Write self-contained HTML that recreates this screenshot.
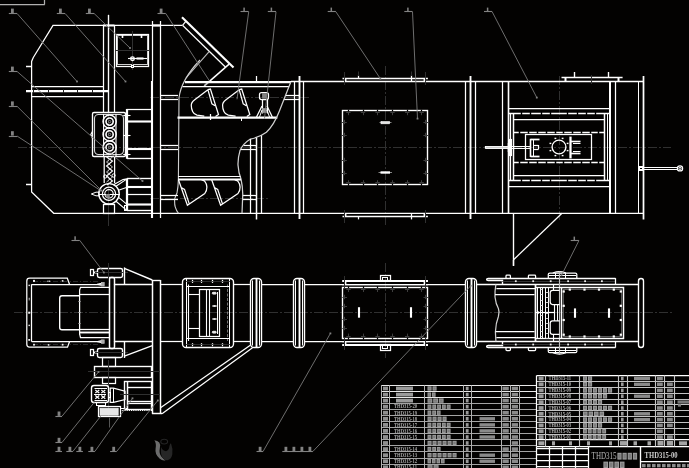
<!DOCTYPE html>
<html><head><meta charset="utf-8"><title>THD315</title>
<style>
html,body{margin:0;padding:0;background:#030201;overflow:hidden;font-family:"Liberation Sans",sans-serif;}
svg{display:block;}
</style></head><body>
<svg width="689" height="468" viewBox="0 0 689 468" fill="none" stroke-linecap="butt">
<defs><filter id="gs" x="-5%" y="-20%" width="110%" height="140%" color-interpolation-filters="sRGB"><feColorMatrix type="saturate" values="0"/></filter></defs>
<rect x="0" y="0" width="689" height="468" fill="#030201"/>
<line x1="18" y1="147.5" x2="671" y2="147.5" stroke="#303030" stroke-width="1.12" stroke-dasharray="9 2 2 2"/>
<line x1="14" y1="312.5" x2="672" y2="312.5" stroke="#303030" stroke-width="1.12" stroke-dasharray="9 2 2 2"/>
<line x1="108.5" y1="14" x2="108.5" y2="226" stroke="#303030" stroke-width="1.0" />
<line x1="385.5" y1="66" x2="385.5" y2="226" stroke="#303030" stroke-width="1.0" stroke-dasharray="9 2 2 2"/>
<line x1="385.5" y1="263" x2="385.5" y2="358" stroke="#303030" stroke-width="1.0" stroke-dasharray="9 2 2 2"/>
<line x1="559.5" y1="76" x2="559.5" y2="222" stroke="#303030" stroke-width="1.0" stroke-dasharray="9 2 2 2"/>
<line x1="150" y1="97.5" x2="310" y2="97.5" stroke="#303030" stroke-width="1.0" stroke-dasharray="9 2 2 2"/>
<line x1="150" y1="198.5" x2="268" y2="198.5" stroke="#303030" stroke-width="1.0" stroke-dasharray="9 2 2 2"/>
<line x1="0" y1="4.5" x2="44.8" y2="4.5" stroke="#b0b0b0" stroke-width="1.25" />
<line x1="44.5" y1="0" x2="44.5" y2="4.6" stroke="#b0b0b0" stroke-width="1.25" />
<polyline points="182,25.3 53,25.3 33.3,57.5 31.6,61.5 31.6,192 53.7,213.3 643.4,213.3" stroke="#ffffff" stroke-width="1.25" fill="none"/>
<line x1="26" y1="66.5" x2="32" y2="66.5" stroke="#ffffff" stroke-width="1.5" />
<line x1="26" y1="184.5" x2="32" y2="184.5" stroke="#ffffff" stroke-width="1.5" />
<line x1="32" y1="86.5" x2="103.5" y2="86.5" stroke="#ffffff" stroke-width="1.25" />
<line x1="26" y1="91.0" x2="108" y2="91.0" stroke="#ffffff" stroke-width="2.25" />
<line x1="32" y1="96.5" x2="103.5" y2="96.5" stroke="#ffffff" stroke-width="1.25" />
<line x1="33.5" y1="89.5" x2="33.5" y2="93" stroke="#222" stroke-width="1.0" />
<line x1="48.5" y1="89.5" x2="48.5" y2="93" stroke="#222" stroke-width="1.0" />
<line x1="63.5" y1="89.5" x2="63.5" y2="93" stroke="#222" stroke-width="1.0" />
<line x1="77.5" y1="89.5" x2="77.5" y2="93" stroke="#222" stroke-width="1.0" />
<line x1="92.5" y1="89.5" x2="92.5" y2="93" stroke="#222" stroke-width="1.0" />
<line x1="103.5" y1="25.3" x2="103.5" y2="112.5" stroke="#ffffff" stroke-width="1.25" />
<line x1="108.5" y1="15" x2="108.5" y2="112.5" stroke="#ffffff" stroke-width="1.38" />
<line x1="114.5" y1="25.3" x2="114.5" y2="112.5" stroke="#ffffff" stroke-width="1.25" />
<line x1="103" y1="25.5" x2="114.5" y2="25.5" stroke="#ffffff" stroke-width="2.0" />
<line x1="152.5" y1="21" x2="152.5" y2="81" stroke="#ffffff" stroke-width="1.25" />
<line x1="152.0" y1="81" x2="152.0" y2="218" stroke="#ffffff" stroke-width="2.12" />
<line x1="160.5" y1="21" x2="160.5" y2="218" stroke="#ffffff" stroke-width="1.25" />
<line x1="152" y1="25.5" x2="161" y2="25.5" stroke="#ffffff" stroke-width="2.25" />
<rect x="116.5" y="34.5" width="32.0" height="32.0" rx="0" stroke="#ffffff" stroke-width="1.25" fill="none"/>
<rect x="117.5" y="35.5" width="30.0" height="29.0" rx="0" stroke="#cfcfcf" stroke-width="1.0" fill="none"/>
<line x1="122.5" y1="34" x2="122.5" y2="38" stroke="#ffffff" stroke-width="1.62" />
<line x1="141.5" y1="34" x2="141.5" y2="38" stroke="#ffffff" stroke-width="1.62" />
<line x1="115" y1="50.5" x2="150" y2="50.5" stroke="#303030" stroke-width="1.0" />
<line x1="132.5" y1="31" x2="132.5" y2="70" stroke="#303030" stroke-width="1.0" />
<circle cx="132.5" cy="58.7" r="1.8" stroke="#ffffff" stroke-width="1.38" fill="none"/>
<line x1="128" y1="58.5" x2="147" y2="58.5" stroke="#ffffff" stroke-width="1.12" />
<line x1="136.5" y1="58.5" x2="143.5" y2="58.5" stroke="#ffffff" stroke-width="2.12" />
<rect x="131.5" y="65.5" width="2.0" height="2.0" rx="0" stroke="#ffffff" stroke-width="1.0" fill="none"/>
<line x1="182" y1="17.2" x2="233.5" y2="67.6" stroke="#ffffff" stroke-width="2.12" />
<line x1="182.5" y1="25.3" x2="225.6" y2="67.2" stroke="#ffffff" stroke-width="1.25" />
<line x1="182.5" y1="25.3" x2="186" y2="21.2" stroke="#ffffff" stroke-width="1.25" />
<line x1="229.1" y1="64.1" x2="208" y2="82.6" stroke="#ffffff" stroke-width="1.5" />
<line x1="208" y1="82.6" x2="204.2" y2="86" stroke="#c0c0c0" stroke-width="1.75" />
<line x1="209.3" y1="51.3" x2="186" y2="78" stroke="#bdbdbd" stroke-width="1.12" />
<path d="M200,60 Q181,80 179,98 L178.4,179 Q178.2,187 177,193 Q174.3,198.5 174.6,201 Q174.6,205 175.2,206.8 Q176.3,210.5 178.5,213.3" stroke="#d0d0d0" stroke-width="1.12" fill="none" />
<line x1="185" y1="82.0" x2="291" y2="82.0" stroke="#ffffff" stroke-width="2.25" />
<line x1="182.5" y1="86.5" x2="289" y2="86.5" stroke="#ffffff" stroke-width="1.25" />
<line x1="177.5" y1="117.5" x2="277.3" y2="117.5" stroke="#ffffff" stroke-width="2.25" />
<line x1="256.5" y1="76" x2="256.5" y2="82" stroke="#ffffff" stroke-width="1.25" />
<line x1="210.5" y1="114" x2="210.5" y2="120" stroke="#ffffff" stroke-width="1.25" />
<line x1="241.5" y1="117" x2="241.5" y2="121" stroke="#ffffff" stroke-width="1.0" />
<line x1="161" y1="95.5" x2="178" y2="95.5" stroke="#ffffff" stroke-width="1.25" />
<line x1="161" y1="99.5" x2="178" y2="99.5" stroke="#ffffff" stroke-width="1.25" />
<line x1="161" y1="145.5" x2="178" y2="145.5" stroke="#ffffff" stroke-width="1.25" />
<line x1="161" y1="149.5" x2="178" y2="149.5" stroke="#ffffff" stroke-width="1.25" />
<line x1="161" y1="195.5" x2="178" y2="195.5" stroke="#ffffff" stroke-width="1.25" />
<line x1="161" y1="199.5" x2="178" y2="199.5" stroke="#ffffff" stroke-width="1.25" />
<line x1="285.5" y1="95.5" x2="299" y2="95.5" stroke="#ffffff" stroke-width="1.25" />
<line x1="284" y1="99.5" x2="299" y2="99.5" stroke="#ffffff" stroke-width="1.25" />
<line x1="243.5" y1="145.5" x2="256" y2="145.5" stroke="#ffffff" stroke-width="1.25" />
<line x1="240.5" y1="149.5" x2="256" y2="149.5" stroke="#ffffff" stroke-width="1.25" />
<line x1="242.6" y1="195.5" x2="256" y2="195.5" stroke="#ffffff" stroke-width="1.25" />
<line x1="242.6" y1="199.5" x2="256" y2="199.5" stroke="#ffffff" stroke-width="1.25" />
<path d="M290.8,82 L279.3,111.2 Q274,125 266.4,132.2 Q260,137 250.1,139.2 Q243,143.5 240,150.6 Q237.8,158 238,165 Q238.5,173 241,179 Q243,188 242.7,196 L242,213.3" stroke="#d0d0d0" stroke-width="1.25" fill="none" />
<line x1="250.5" y1="139" x2="250.5" y2="213" stroke="#ffffff" stroke-width="1.25" />
<line x1="256.5" y1="137.5" x2="256.5" y2="219.5" stroke="#ffffff" stroke-width="1.5" />
<line x1="261.5" y1="135.5" x2="261.5" y2="213" stroke="#ffffff" stroke-width="1.25" />
<line x1="178" y1="176.5" x2="240.5" y2="176.5" stroke="#ffffff" stroke-width="1.12" />
<line x1="178" y1="179.5" x2="241" y2="179.5" stroke="#ffffff" stroke-width="1.88" />
<path d="M207.9,89.7 L210.4,89.1 L218.5,114.6 L215.5,116.6 M207.9,89.7 L211.9,103.8 L215,105.8 M207.9,89.7 L194.7,99.7 Q191,102.5 191.3,105.6 Q191.3,109 192.6,111.4 Q194,114.3 197,115.2 L204.3,116.2" stroke="#ffffff" stroke-width="1.25" fill="none" />
<path d="M239.20000000000002,89.7 L241.70000000000002,89.1 L249.8,114.6 L246.8,116.6 M239.20000000000002,89.7 L243.20000000000002,103.8 L246.3,105.8 M239.20000000000002,89.7 L226.0,99.7 Q222.3,102.5 222.60000000000002,105.6 Q222.60000000000002,109 223.9,111.4 Q225.3,114.3 228.3,115.2 L235.60000000000002,116.2" stroke="#ffffff" stroke-width="1.25" fill="none" />
<path d="M178.4,179.5 L187.4,205.2 L204.8,193.5 Q207,190.5 206.9,187.1 Q206.7,183.5 204.8,181.3 Q203.6,180.1 201.5,179.8 M181.6,187.7 L184.5,189.4 L189.2,203.6" stroke="#ffffff" stroke-width="1.25" fill="none" />
<path d="M211.60000000000002,179.5 L220.60000000000002,205.2 L238.0,193.5 Q240.2,190.5 240.10000000000002,187.1 Q239.89999999999998,183.5 238.0,181.3 Q236.8,180.1 234.7,179.8 M214.8,187.7 L217.7,189.4 L222.39999999999998,203.6" stroke="#ffffff" stroke-width="1.25" fill="none" />
<rect x="259.5" y="92.5" width="9.0" height="7.0" rx="2" stroke="#ffffff" stroke-width="1.25" fill="none"/>
<line x1="262.5" y1="99.5" x2="262.5" y2="113.5" stroke="#ffffff" stroke-width="1.25" />
<line x1="267.5" y1="99.5" x2="267.5" y2="113.5" stroke="#ffffff" stroke-width="1.25" />
<rect x="262.6" y="93.6" width="3.8" height="4.6" rx="0" stroke="#828282" stroke-width="1.0" fill="#828282"/>
<rect x="262.5" y="108.5" width="4.0" height="4.0" rx="0" stroke="#9a9a9a" stroke-width="0.75" fill="#9a9a9a"/>
<line x1="262" y1="106" x2="256.5" y2="117" stroke="#ffffff" stroke-width="1.25" />
<line x1="267" y1="106" x2="272.3" y2="117" stroke="#ffffff" stroke-width="1.25" />
<line x1="262" y1="110" x2="259.5" y2="117" stroke="#ffffff" stroke-width="1.0" />
<line x1="267" y1="110" x2="269.5" y2="117" stroke="#ffffff" stroke-width="1.0" />
<line x1="294.5" y1="82" x2="294.5" y2="213" stroke="#ffffff" stroke-width="1.25" />
<line x1="299.5" y1="76" x2="299.5" y2="219" stroke="#ffffff" stroke-width="1.88" />
<line x1="303.5" y1="82" x2="303.5" y2="213" stroke="#ffffff" stroke-width="1.25" />
<line x1="465.5" y1="82" x2="465.5" y2="213" stroke="#ffffff" stroke-width="1.25" />
<line x1="470.5" y1="76" x2="470.5" y2="219" stroke="#ffffff" stroke-width="1.88" />
<line x1="475.5" y1="82" x2="475.5" y2="213" stroke="#ffffff" stroke-width="1.25" />
<line x1="291" y1="81.5" x2="643.4" y2="81.5" stroke="#ffffff" stroke-width="1.38" />
<line x1="342.5" y1="78.5" x2="427.9" y2="78.5" stroke="#ffffff" stroke-width="1.38" />
<line x1="345.5" y1="78.4" x2="345.5" y2="81.6" stroke="#ffffff" stroke-width="1.88" />
<line x1="424.5" y1="78.4" x2="424.5" y2="81.6" stroke="#ffffff" stroke-width="1.88" />
<line x1="358.5" y1="75.4" x2="358.5" y2="78.4" stroke="#ffffff" stroke-width="1.25" />
<line x1="411.5" y1="75.4" x2="411.5" y2="81.6" stroke="#ffffff" stroke-width="1.25" />
<line x1="344.5" y1="72" x2="344.5" y2="85" stroke="#303030" stroke-width="1.0" />
<line x1="425.5" y1="72" x2="425.5" y2="85" stroke="#303030" stroke-width="1.0" />
<line x1="358.5" y1="71.5" x2="358.5" y2="76" stroke="#303030" stroke-width="1.0" />
<line x1="411.5" y1="71.5" x2="411.5" y2="76" stroke="#303030" stroke-width="1.0" />
<line x1="342.5" y1="216.5" x2="427.9" y2="216.5" stroke="#ffffff" stroke-width="1.38" />
<line x1="345.5" y1="213.3" x2="345.5" y2="216.4" stroke="#ffffff" stroke-width="1.88" />
<line x1="424.5" y1="213.3" x2="424.5" y2="216.4" stroke="#ffffff" stroke-width="1.88" />
<line x1="358.5" y1="216.4" x2="358.5" y2="219.4" stroke="#ffffff" stroke-width="1.25" />
<line x1="411.5" y1="213.3" x2="411.5" y2="219.4" stroke="#ffffff" stroke-width="1.25" />
<line x1="344.5" y1="210" x2="344.5" y2="223" stroke="#303030" stroke-width="1.0" />
<line x1="425.5" y1="210" x2="425.5" y2="223" stroke="#303030" stroke-width="1.0" />
<rect x="342.5" y="110.5" width="85.0" height="74.0" rx="0" stroke="#ffffff" stroke-width="1.38" fill="none"/>
<line x1="348.5" y1="110.2" x2="348.5" y2="115.2" stroke="#3e3e3e" stroke-width="1.0" />
<line x1="346.2" y1="112.5" x2="350.59999999999997" y2="112.5" stroke="#3e3e3e" stroke-width="1.0" />
<line x1="348.5" y1="180.2" x2="348.5" y2="185.2" stroke="#3e3e3e" stroke-width="1.0" />
<line x1="346.2" y1="182.5" x2="350.59999999999997" y2="182.5" stroke="#3e3e3e" stroke-width="1.0" />
<line x1="348.5" y1="109.6" x2="348.5" y2="111.6" stroke="#000" stroke-width="1.25" />
<line x1="348.5" y1="183.7" x2="348.5" y2="185.7" stroke="#000" stroke-width="1.25" />
<line x1="363.5" y1="110.2" x2="363.5" y2="115.2" stroke="#3e3e3e" stroke-width="1.0" />
<line x1="360.8" y1="112.5" x2="365.2" y2="112.5" stroke="#3e3e3e" stroke-width="1.0" />
<line x1="363.5" y1="180.2" x2="363.5" y2="185.2" stroke="#3e3e3e" stroke-width="1.0" />
<line x1="360.8" y1="182.5" x2="365.2" y2="182.5" stroke="#3e3e3e" stroke-width="1.0" />
<line x1="363.5" y1="109.6" x2="363.5" y2="111.6" stroke="#000" stroke-width="1.25" />
<line x1="363.5" y1="183.7" x2="363.5" y2="185.7" stroke="#000" stroke-width="1.25" />
<line x1="377.5" y1="110.2" x2="377.5" y2="115.2" stroke="#3e3e3e" stroke-width="1.0" />
<line x1="375.40000000000003" y1="112.5" x2="379.8" y2="112.5" stroke="#3e3e3e" stroke-width="1.0" />
<line x1="377.5" y1="180.2" x2="377.5" y2="185.2" stroke="#3e3e3e" stroke-width="1.0" />
<line x1="375.40000000000003" y1="182.5" x2="379.8" y2="182.5" stroke="#3e3e3e" stroke-width="1.0" />
<line x1="377.5" y1="109.6" x2="377.5" y2="111.6" stroke="#000" stroke-width="1.25" />
<line x1="377.5" y1="183.7" x2="377.5" y2="185.7" stroke="#000" stroke-width="1.25" />
<line x1="392.5" y1="110.2" x2="392.5" y2="115.2" stroke="#3e3e3e" stroke-width="1.0" />
<line x1="390.3" y1="112.5" x2="394.7" y2="112.5" stroke="#3e3e3e" stroke-width="1.0" />
<line x1="392.5" y1="180.2" x2="392.5" y2="185.2" stroke="#3e3e3e" stroke-width="1.0" />
<line x1="390.3" y1="182.5" x2="394.7" y2="182.5" stroke="#3e3e3e" stroke-width="1.0" />
<line x1="392.5" y1="109.6" x2="392.5" y2="111.6" stroke="#000" stroke-width="1.25" />
<line x1="392.5" y1="183.7" x2="392.5" y2="185.7" stroke="#000" stroke-width="1.25" />
<line x1="407.5" y1="110.2" x2="407.5" y2="115.2" stroke="#3e3e3e" stroke-width="1.0" />
<line x1="405.1" y1="112.5" x2="409.5" y2="112.5" stroke="#3e3e3e" stroke-width="1.0" />
<line x1="407.5" y1="180.2" x2="407.5" y2="185.2" stroke="#3e3e3e" stroke-width="1.0" />
<line x1="405.1" y1="182.5" x2="409.5" y2="182.5" stroke="#3e3e3e" stroke-width="1.0" />
<line x1="407.5" y1="109.6" x2="407.5" y2="111.6" stroke="#000" stroke-width="1.25" />
<line x1="407.5" y1="183.7" x2="407.5" y2="185.7" stroke="#000" stroke-width="1.25" />
<line x1="421.5" y1="110.2" x2="421.5" y2="115.2" stroke="#3e3e3e" stroke-width="1.0" />
<line x1="419.40000000000003" y1="112.5" x2="423.8" y2="112.5" stroke="#3e3e3e" stroke-width="1.0" />
<line x1="421.5" y1="180.2" x2="421.5" y2="185.2" stroke="#3e3e3e" stroke-width="1.0" />
<line x1="419.40000000000003" y1="182.5" x2="423.8" y2="182.5" stroke="#3e3e3e" stroke-width="1.0" />
<line x1="421.5" y1="109.6" x2="421.5" y2="111.6" stroke="#000" stroke-width="1.25" />
<line x1="421.5" y1="183.7" x2="421.5" y2="185.7" stroke="#000" stroke-width="1.25" />
<line x1="341.8" y1="122.5" x2="346.8" y2="122.5" stroke="#3e3e3e" stroke-width="1.0" />
<line x1="344.5" y1="119.8" x2="344.5" y2="124.2" stroke="#3e3e3e" stroke-width="1.0" />
<line x1="423.4" y1="122.5" x2="428.4" y2="122.5" stroke="#3e3e3e" stroke-width="1.0" />
<line x1="425.5" y1="119.8" x2="425.5" y2="124.2" stroke="#3e3e3e" stroke-width="1.0" />
<line x1="341.8" y1="135.5" x2="346.8" y2="135.5" stroke="#3e3e3e" stroke-width="1.0" />
<line x1="344.5" y1="132.8" x2="344.5" y2="137.2" stroke="#3e3e3e" stroke-width="1.0" />
<line x1="423.4" y1="135.5" x2="428.4" y2="135.5" stroke="#3e3e3e" stroke-width="1.0" />
<line x1="425.5" y1="132.8" x2="425.5" y2="137.2" stroke="#3e3e3e" stroke-width="1.0" />
<line x1="341.8" y1="160.5" x2="346.8" y2="160.5" stroke="#3e3e3e" stroke-width="1.0" />
<line x1="344.5" y1="157.8" x2="344.5" y2="162.2" stroke="#3e3e3e" stroke-width="1.0" />
<line x1="423.4" y1="160.5" x2="428.4" y2="160.5" stroke="#3e3e3e" stroke-width="1.0" />
<line x1="425.5" y1="157.8" x2="425.5" y2="162.2" stroke="#3e3e3e" stroke-width="1.0" />
<line x1="341.8" y1="173.5" x2="346.8" y2="173.5" stroke="#3e3e3e" stroke-width="1.0" />
<line x1="344.5" y1="170.8" x2="344.5" y2="175.2" stroke="#3e3e3e" stroke-width="1.0" />
<line x1="423.4" y1="173.5" x2="428.4" y2="173.5" stroke="#3e3e3e" stroke-width="1.0" />
<line x1="425.5" y1="170.8" x2="425.5" y2="175.2" stroke="#3e3e3e" stroke-width="1.0" />
<line x1="379.5" y1="122.5" x2="391.5" y2="122.5" stroke="#999" stroke-width="0.88" />
<rect x="381" y="121.6" width="8.5" height="2.2" rx="0" stroke="#fff" stroke-width="0.62" fill="#e4e4e4"/>
<line x1="378.5" y1="172.5" x2="392" y2="172.5" stroke="#999" stroke-width="0.88" />
<line x1="380.5" y1="172.5" x2="390" y2="172.5" stroke="#ffffff" stroke-width="2.38" />
<line x1="502.5" y1="82" x2="502.5" y2="213" stroke="#ffffff" stroke-width="1.25" />
<line x1="508.5" y1="82" x2="508.5" y2="213" stroke="#ffffff" stroke-width="1.62" />
<line x1="610.0" y1="82" x2="610.0" y2="213" stroke="#ffffff" stroke-width="2.0" />
<line x1="615.5" y1="82" x2="615.5" y2="213" stroke="#ffffff" stroke-width="1.25" />
<line x1="638.5" y1="82" x2="638.5" y2="213" stroke="#ffffff" stroke-width="1.0" />
<line x1="643.5" y1="76" x2="643.5" y2="219.5" stroke="#ffffff" stroke-width="1.75" />
<line x1="561.5" y1="77.5" x2="622.6" y2="77.5" stroke="#ffffff" stroke-width="1.38" />
<line x1="565.5" y1="77.3" x2="565.5" y2="81.2" stroke="#ffffff" stroke-width="2.0" />
<line x1="618.5" y1="77.3" x2="618.5" y2="81.2" stroke="#ffffff" stroke-width="2.0" />
<line x1="574.5" y1="72" x2="574.5" y2="77.3" stroke="#ffffff" stroke-width="1.38" />
<line x1="608.5" y1="72" x2="608.5" y2="77.3" stroke="#ffffff" stroke-width="1.38" />
<line x1="591.5" y1="75" x2="591.5" y2="84" stroke="#303030" stroke-width="1.0" />
<line x1="508.3" y1="108.5" x2="610.3" y2="108.5" stroke="#ffffff" stroke-width="1.25" />
<line x1="508.3" y1="113.5" x2="610.3" y2="113.5" stroke="#ffffff" stroke-width="1.5" />
<line x1="513.5" y1="119.5" x2="604.5" y2="119.5" stroke="#ffffff" stroke-width="1.25" />
<line x1="510.5" y1="113.6" x2="510.5" y2="181" stroke="#ffffff" stroke-width="1.25" />
<line x1="513.5" y1="113.6" x2="513.5" y2="181" stroke="#ffffff" stroke-width="1.5" />
<line x1="604.5" y1="113.6" x2="604.5" y2="181" stroke="#ffffff" stroke-width="1.5" />
<line x1="607.5" y1="113.6" x2="607.5" y2="181" stroke="#ffffff" stroke-width="1.0" />
<line x1="513.6" y1="132.5" x2="604.7" y2="132.5" stroke="#ffffff" stroke-width="1.62" />
<line x1="513.6" y1="162.5" x2="604.7" y2="162.5" stroke="#ffffff" stroke-width="1.62" />
<line x1="513.5" y1="175.5" x2="604.5" y2="175.5" stroke="#ffffff" stroke-width="1.25" />
<line x1="508.3" y1="180.5" x2="610.3" y2="180.5" stroke="#ffffff" stroke-width="1.5" />
<line x1="508.3" y1="186.5" x2="610.3" y2="186.5" stroke="#ffffff" stroke-width="1.25" />
<line x1="521.5" y1="111.8" x2="521.5" y2="115.39999999999999" stroke="#000" stroke-width="1.38" />
<line x1="530.5" y1="111.8" x2="530.5" y2="115.39999999999999" stroke="#000" stroke-width="1.38" />
<line x1="541.5" y1="111.8" x2="541.5" y2="115.39999999999999" stroke="#000" stroke-width="1.38" />
<line x1="550.5" y1="111.8" x2="550.5" y2="115.39999999999999" stroke="#000" stroke-width="1.38" />
<line x1="567.5" y1="111.8" x2="567.5" y2="115.39999999999999" stroke="#000" stroke-width="1.38" />
<line x1="577.5" y1="111.8" x2="577.5" y2="115.39999999999999" stroke="#000" stroke-width="1.38" />
<line x1="586.5" y1="111.8" x2="586.5" y2="115.39999999999999" stroke="#000" stroke-width="1.38" />
<line x1="595.5" y1="111.8" x2="595.5" y2="115.39999999999999" stroke="#000" stroke-width="1.38" />
<line x1="521.5" y1="179.0" x2="521.5" y2="182.60000000000002" stroke="#000" stroke-width="1.38" />
<line x1="530.5" y1="179.0" x2="530.5" y2="182.60000000000002" stroke="#000" stroke-width="1.38" />
<line x1="541.5" y1="179.0" x2="541.5" y2="182.60000000000002" stroke="#000" stroke-width="1.38" />
<line x1="550.5" y1="179.0" x2="550.5" y2="182.60000000000002" stroke="#000" stroke-width="1.38" />
<line x1="567.5" y1="179.0" x2="567.5" y2="182.60000000000002" stroke="#000" stroke-width="1.38" />
<line x1="577.5" y1="179.0" x2="577.5" y2="182.60000000000002" stroke="#000" stroke-width="1.38" />
<line x1="586.5" y1="179.0" x2="586.5" y2="182.60000000000002" stroke="#000" stroke-width="1.38" />
<line x1="595.5" y1="179.0" x2="595.5" y2="182.60000000000002" stroke="#000" stroke-width="1.38" />
<line x1="519.5" y1="130.79999999999998" x2="519.5" y2="134.4" stroke="#000" stroke-width="1.5" />
<line x1="528.5" y1="130.79999999999998" x2="528.5" y2="134.4" stroke="#000" stroke-width="1.5" />
<line x1="537.5" y1="130.79999999999998" x2="537.5" y2="134.4" stroke="#000" stroke-width="1.5" />
<line x1="546.5" y1="130.79999999999998" x2="546.5" y2="134.4" stroke="#000" stroke-width="1.5" />
<line x1="555.5" y1="130.79999999999998" x2="555.5" y2="134.4" stroke="#000" stroke-width="1.5" />
<line x1="563.5" y1="130.79999999999998" x2="563.5" y2="134.4" stroke="#000" stroke-width="1.5" />
<line x1="572.5" y1="130.79999999999998" x2="572.5" y2="134.4" stroke="#000" stroke-width="1.5" />
<line x1="581.5" y1="130.79999999999998" x2="581.5" y2="134.4" stroke="#000" stroke-width="1.5" />
<line x1="590.5" y1="130.79999999999998" x2="590.5" y2="134.4" stroke="#000" stroke-width="1.5" />
<line x1="598.5" y1="130.79999999999998" x2="598.5" y2="134.4" stroke="#000" stroke-width="1.5" />
<line x1="519.5" y1="160.89999999999998" x2="519.5" y2="164.5" stroke="#000" stroke-width="1.5" />
<line x1="528.5" y1="160.89999999999998" x2="528.5" y2="164.5" stroke="#000" stroke-width="1.5" />
<line x1="537.5" y1="160.89999999999998" x2="537.5" y2="164.5" stroke="#000" stroke-width="1.5" />
<line x1="546.5" y1="160.89999999999998" x2="546.5" y2="164.5" stroke="#000" stroke-width="1.5" />
<line x1="555.5" y1="160.89999999999998" x2="555.5" y2="164.5" stroke="#000" stroke-width="1.5" />
<line x1="563.5" y1="160.89999999999998" x2="563.5" y2="164.5" stroke="#000" stroke-width="1.5" />
<line x1="572.5" y1="160.89999999999998" x2="572.5" y2="164.5" stroke="#000" stroke-width="1.5" />
<line x1="581.5" y1="160.89999999999998" x2="581.5" y2="164.5" stroke="#000" stroke-width="1.5" />
<line x1="590.5" y1="160.89999999999998" x2="590.5" y2="164.5" stroke="#000" stroke-width="1.5" />
<line x1="598.5" y1="160.89999999999998" x2="598.5" y2="164.5" stroke="#000" stroke-width="1.5" />
<rect x="525.5" y="134.5" width="66.0" height="25.0" rx="0" stroke="#ffffff" stroke-width="1.25" fill="none"/>
<circle cx="559" cy="147" r="6.9" stroke="#ffffff" stroke-width="1.38" fill="none"/>
<rect x="566.7" y="149.9" width="1.8" height="1.4" fill="#ffffff"/>
<rect x="561.7" y="154.9" width="1.8" height="1.4" fill="#ffffff"/>
<rect x="554.5" y="154.9" width="1.8" height="1.4" fill="#ffffff"/>
<rect x="549.5" y="149.9" width="1.8" height="1.4" fill="#ffffff"/>
<rect x="549.5" y="142.7" width="1.8" height="1.4" fill="#ffffff"/>
<rect x="554.5" y="137.7" width="1.8" height="1.4" fill="#ffffff"/>
<rect x="561.7" y="137.7" width="1.8" height="1.4" fill="#ffffff"/>
<rect x="566.7" y="142.7" width="1.8" height="1.4" fill="#ffffff"/>
<line x1="485.5" y1="146.5" x2="531" y2="146.5" stroke="#ffffff" stroke-width="1.12" />
<line x1="485.5" y1="148.5" x2="531" y2="148.5" stroke="#ffffff" stroke-width="1.12" />
<line x1="485.5" y1="146" x2="485.5" y2="148.7" stroke="#ffffff" stroke-width="1.25" />
<line x1="486" y1="147.5" x2="510" y2="147.5" stroke="#cfcfcf" stroke-width="1.5" />
<line x1="508.5" y1="143" x2="508.5" y2="152" stroke="#ffffff" stroke-width="1.5" />
<rect x="509.5" y="139.5" width="2.0" height="16.0" rx="0" stroke="#ffffff" stroke-width="1.12" fill="none"/>
<line x1="530.5" y1="138.8" x2="530.5" y2="157.1" stroke="#ffffff" stroke-width="1.62" />
<line x1="530.7" y1="139.5" x2="539.5" y2="139.5" stroke="#ffffff" stroke-width="1.75" />
<line x1="530.7" y1="156.5" x2="539.5" y2="156.5" stroke="#ffffff" stroke-width="1.75" />
<line x1="533.5" y1="139" x2="533.5" y2="157" stroke="#ffffff" stroke-width="1.0" />
<line x1="533.8" y1="145.5" x2="538.5" y2="145.5" stroke="#ffffff" stroke-width="1.25" />
<line x1="533.8" y1="149.5" x2="538.5" y2="149.5" stroke="#ffffff" stroke-width="1.25" />
<line x1="538.5" y1="145" x2="538.5" y2="149.4" stroke="#ffffff" stroke-width="1.25" />
<line x1="570.5" y1="136.6" x2="570.5" y2="158.4" stroke="#ffffff" stroke-width="2.25" />
<line x1="570.5" y1="141.5" x2="580.5" y2="141.5" stroke="#ffffff" stroke-width="1.62" />
<line x1="570.5" y1="153.5" x2="580.5" y2="153.5" stroke="#ffffff" stroke-width="1.62" />
<line x1="573" y1="143.5" x2="580.5" y2="143.5" stroke="#ffffff" stroke-width="1.0" />
<line x1="573" y1="151.5" x2="580.5" y2="151.5" stroke="#ffffff" stroke-width="1.0" />
<line x1="639.5" y1="167.5" x2="677" y2="167.5" stroke="#ffffff" stroke-width="1.12" />
<line x1="639.5" y1="169.5" x2="677" y2="169.5" stroke="#ffffff" stroke-width="1.12" />
<circle cx="680" cy="168.4" r="2.6" stroke="#ffffff" stroke-width="1.25" fill="none"/>
<circle cx="680" cy="168.4" r="1.1" stroke="#ffffff" stroke-width="1.0" fill="none"/>
<rect x="639.5" y="166.5" width="3.0" height="4.0" rx="0" stroke="#ffffff" stroke-width="1.0" fill="none"/>
<line x1="513.5" y1="213.3" x2="513.5" y2="265.8" stroke="#ffffff" stroke-width="1.38" />
<line x1="562" y1="213.3" x2="513.6" y2="259.7" stroke="#ffffff" stroke-width="1.25" />
<rect x="92.5" y="112.5" width="33.0" height="44.0" rx="1.5" stroke="#ffffff" stroke-width="1.38" fill="none"/>
<rect x="94.5" y="114.5" width="29.0" height="40.0" rx="4" stroke="#d8d8d8" stroke-width="1.12" fill="none"/>
<circle cx="109.6" cy="121.6" r="6.6" stroke="#ffffff" stroke-width="1.38" fill="none"/>
<circle cx="109.6" cy="121.6" r="3.6" stroke="#ffffff" stroke-width="1.62" fill="none"/>
<circle cx="109.6" cy="121.6" r="1.2" stroke="#828282" stroke-width="1.0" fill="none"/>
<circle cx="109.6" cy="134.4" r="6.6" stroke="#ffffff" stroke-width="1.38" fill="none"/>
<circle cx="109.6" cy="134.4" r="3.6" stroke="#ffffff" stroke-width="1.62" fill="none"/>
<circle cx="109.6" cy="134.4" r="1.2" stroke="#828282" stroke-width="1.0" fill="none"/>
<circle cx="109.6" cy="147.4" r="6.6" stroke="#ffffff" stroke-width="1.38" fill="none"/>
<circle cx="109.6" cy="147.4" r="3.6" stroke="#ffffff" stroke-width="1.62" fill="none"/>
<circle cx="109.6" cy="147.4" r="1.2" stroke="#828282" stroke-width="1.0" fill="none"/>
<path d="M103.6,114 L103.6,156 M116,114 L116,156" stroke="#ffffff" stroke-width="1.12" fill="none" />
<path d="M92.7,131 L90.8,134.6 L92.7,138.5" stroke="#ffffff" stroke-width="1.12" fill="none" />
<line x1="127.0" y1="109" x2="127.0" y2="158.8" stroke="#ffffff" stroke-width="2.25" />
<line x1="126.5" y1="109.5" x2="152" y2="109.5" stroke="#ffffff" stroke-width="1.25" />
<line x1="127" y1="121.5" x2="152" y2="121.5" stroke="#ffffff" stroke-width="2.12" />
<line x1="127" y1="149.0" x2="152" y2="149.0" stroke="#ffffff" stroke-width="2.12" />
<line x1="127" y1="158.5" x2="152" y2="158.5" stroke="#ffffff" stroke-width="1.38" />
<line x1="123.2" y1="115.5" x2="130.5" y2="115.5" stroke="#ffffff" stroke-width="1.12" />
<line x1="123.2" y1="135.5" x2="130.5" y2="135.5" stroke="#ffffff" stroke-width="1.12" />
<line x1="123.2" y1="154.5" x2="130.5" y2="154.5" stroke="#ffffff" stroke-width="1.12" />
<path d="M104.2,156 L104.2,183 M114.6,156 L114.6,183" stroke="#ffffff" stroke-width="1.25" fill="none" />
<path d="M106.5,157 L112.5,161 L106.5,166 L112.5,171 L106.5,176 L112.5,181 L107,185" stroke="#ffffff" stroke-width="1.12" fill="none" />
<path d="M112.5,157 L106.5,162 L112.5,167 L106.5,172 L112.5,177 L106.5,182" stroke="#d0d0d0" stroke-width="1.0" fill="none" />
<circle cx="105.2" cy="176.5" r="1.6" stroke="#ffffff" stroke-width="1.0" fill="none"/>
<circle cx="113.6" cy="175.5" r="1.6" stroke="#ffffff" stroke-width="1.0" fill="none"/>
<circle cx="109" cy="193.8" r="10.2" stroke="#ffffff" stroke-width="1.38" fill="none"/>
<circle cx="109" cy="193.8" r="6.6" stroke="#ffffff" stroke-width="1.25" fill="none"/>
<circle cx="109" cy="193.8" r="4.2" stroke="#ffffff" stroke-width="1.12" fill="none"/>
<path d="M91.3,194 L96,192.2 L99,192.2 L99,195.8 L96,195.8 Z" stroke="#ffffff" stroke-width="1.0" fill="none" />
<line x1="99" y1="194.5" x2="120" y2="194.5" stroke="#ffffff" stroke-width="1.0" />
<rect x="106.4" y="194.6" width="3.0" height="2.6" rx="0" stroke="#828282" stroke-width="0.75" fill="#828282"/>
<rect x="103.5" y="204.5" width="11.0" height="9.0" rx="0" stroke="#ffffff" stroke-width="1.25" fill="none"/>
<path d="M116,186.3 L127,178.9 M118.6,190.2 L127,187.2 M118.6,197.4 L127,204.4 M116,201.3 L127,210.6 M114,184.5 L123,179.5 L127,178.9" stroke="#ffffff" stroke-width="1.12" fill="none" />
<line x1="127.0" y1="178.8" x2="127.0" y2="211" stroke="#ffffff" stroke-width="2.25" />
<line x1="127" y1="178.5" x2="152" y2="178.5" stroke="#ffffff" stroke-width="1.38" />
<line x1="127" y1="187.0" x2="152" y2="187.0" stroke="#ffffff" stroke-width="2.12" />
<line x1="127" y1="194.5" x2="152" y2="194.5" stroke="#ffffff" stroke-width="1.25" />
<line x1="127" y1="204.5" x2="152" y2="204.5" stroke="#ffffff" stroke-width="2.12" />
<line x1="127" y1="210.5" x2="152" y2="210.5" stroke="#ffffff" stroke-width="1.38" />
<rect x="124.5" y="205.5" width="3.0" height="5.0" rx="0" stroke="#ffffff" stroke-width="1.0" fill="none"/>
<path d="M69.5,284.2 L67.3,278.2 L29.6,278.2 Q26.8,278.2 26.8,281 L26.8,344.3 Q26.8,347.1 29.6,347.1 L67.5,347.1 L69.5,341.7" stroke="#ffffff" stroke-width="1.25" fill="none" />
<line x1="31.5" y1="284.2" x2="31.5" y2="341.7" stroke="#ffffff" stroke-width="1.25" />
<line x1="31.7" y1="284.5" x2="104" y2="284.5" stroke="#ffffff" stroke-width="1.25" />
<line x1="31.7" y1="341.5" x2="104" y2="341.5" stroke="#ffffff" stroke-width="1.25" />
<line x1="33" y1="281.5" x2="100" y2="281.5" stroke="#303030" stroke-width="0.88" stroke-dasharray="5 2 1 2"/>
<line x1="33" y1="344.5" x2="100" y2="344.5" stroke="#303030" stroke-width="0.88" stroke-dasharray="5 2 1 2"/>
<rect x="33.0" y="279.9" width="2.0" height="2.0" fill="#f2f2f2"/>
<rect x="47.4" y="280.59999999999997" width="1.2" height="1.2" fill="#f2f2f2"/>
<rect x="49.0" y="280.59999999999997" width="1.2" height="1.2" fill="#f2f2f2"/>
<rect x="61.800000000000004" y="280.09999999999997" width="1.6" height="1.6" fill="#f2f2f2"/>
<rect x="28.5" y="284.7" width="1.4" height="1.4" fill="#f2f2f2"/>
<rect x="28.7" y="297.8" width="1.0" height="1.0" fill="#f2f2f2"/>
<rect x="28.7" y="299.3" width="1.0" height="1.0" fill="#f2f2f2"/>
<rect x="28.2" y="311.7" width="2.0" height="2.0" fill="#f2f2f2"/>
<rect x="28.5" y="324.7" width="1.4" height="1.4" fill="#f2f2f2"/>
<rect x="28.3" y="339.0" width="1.8" height="1.8" fill="#f2f2f2"/>
<rect x="33.1" y="343.8" width="1.8" height="1.8" fill="#f2f2f2"/>
<rect x="47.800000000000004" y="344.09999999999997" width="1.6" height="1.6" fill="#f2f2f2"/>
<rect x="61.7" y="343.8" width="1.8" height="1.8" fill="#f2f2f2"/>
<path d="M80,295.7 L62,295.7 Q59.7,295.7 59.7,298 L59.7,327.4 Q59.7,329.7 62,329.7 L80,329.7" stroke="#ffffff" stroke-width="1.38" fill="none" />
<path d="M109.6,287.3 L80.5,287.3 L79.6,290 L79.6,334 L80.5,337.6 L109.6,337.6" stroke="#ffffff" stroke-width="1.25" fill="none" />
<line x1="80" y1="294.5" x2="109.6" y2="294.5" stroke="#ffffff" stroke-width="1.25" />
<line x1="80" y1="329.5" x2="109.6" y2="329.5" stroke="#ffffff" stroke-width="1.25" />
<line x1="80" y1="332.5" x2="109.6" y2="332.5" stroke="#ffffff" stroke-width="1.88" />
<line x1="78.4" y1="301.5" x2="80.6" y2="301.5" stroke="#bbb" stroke-width="0.88" />
<line x1="78.4" y1="312.5" x2="80.6" y2="312.5" stroke="#bbb" stroke-width="0.88" />
<line x1="78.4" y1="323.5" x2="80.6" y2="323.5" stroke="#bbb" stroke-width="0.88" />
<rect x="109.5" y="277.5" width="5.0" height="71.0" rx="1.5" stroke="#ffffff" stroke-width="1.5" fill="none"/>
<path d="M97,284.3 L102.5,283.1 L102.5,285.5 Z" stroke="#ffffff" stroke-width="1.0" fill="#ccc" />
<rect x="101.5" y="282.6" width="2.7" height="3.4" rx="0" stroke="#bbb" stroke-width="0.75" fill="#aaa"/>
<path d="M97,341.6 L102.5,340.40000000000003 L102.5,342.8 Z" stroke="#ffffff" stroke-width="1.0" fill="#ccc" />
<rect x="101.5" y="339.90000000000003" width="2.7" height="3.4" rx="0" stroke="#bbb" stroke-width="0.75" fill="#aaa"/>
<rect x="97.5" y="268.5" width="25.0" height="9.0" rx="1.8" stroke="#ffffff" stroke-width="1.38" fill="none"/>
<rect x="90.5" y="269.5" width="3.0" height="6.0" rx="0" stroke="#ffffff" stroke-width="1.25" fill="none"/>
<line x1="93.8" y1="272.5" x2="97" y2="272.5" stroke="#ffffff" stroke-width="1.88" />
<line x1="95" y1="272.5" x2="128" y2="272.5" stroke="#303030" stroke-width="1.0" />
<rect x="97.5" y="348.5" width="25.0" height="9.0" rx="1.8" stroke="#ffffff" stroke-width="1.38" fill="none"/>
<rect x="90.5" y="349.5" width="3.0" height="6.0" rx="0" stroke="#ffffff" stroke-width="1.25" fill="none"/>
<line x1="93.8" y1="352.5" x2="97" y2="352.5" stroke="#ffffff" stroke-width="1.88" />
<line x1="95" y1="352.5" x2="128" y2="352.5" stroke="#303030" stroke-width="1.0" />
<line x1="108.5" y1="263" x2="108.5" y2="283" stroke="#303030" stroke-width="1.0" />
<line x1="124.5" y1="267.4" x2="124.5" y2="284" stroke="#ffffff" stroke-width="1.38" />
<line x1="124.4" y1="268.4" x2="152.3" y2="280" stroke="#ffffff" stroke-width="1.38" />
<line x1="124.5" y1="341.5" x2="124.5" y2="358" stroke="#ffffff" stroke-width="1.38" />
<line x1="124.4" y1="356.2" x2="152.3" y2="345.6" stroke="#ffffff" stroke-width="1.38" />
<line x1="113.9" y1="284.5" x2="152.3" y2="284.5" stroke="#ffffff" stroke-width="1.62" />
<line x1="113.9" y1="341.5" x2="152.3" y2="341.5" stroke="#ffffff" stroke-width="1.62" />
<line x1="152.5" y1="280" x2="152.5" y2="413.8" stroke="#ffffff" stroke-width="1.5" />
<line x1="160.5" y1="280" x2="160.5" y2="413.8" stroke="#ffffff" stroke-width="1.5" />
<line x1="152.2" y1="280.5" x2="160.5" y2="280.5" stroke="#ffffff" stroke-width="1.38" />
<line x1="152" y1="413.5" x2="162" y2="413.5" stroke="#ffffff" stroke-width="1.5" />
<line x1="160.5" y1="284.5" x2="182.4" y2="284.5" stroke="#ffffff" stroke-width="1.25" />
<line x1="233.6" y1="284.5" x2="250.8" y2="284.5" stroke="#ffffff" stroke-width="1.25" />
<line x1="261.1" y1="284.5" x2="293.7" y2="284.5" stroke="#ffffff" stroke-width="1.25" />
<line x1="304.5" y1="284.5" x2="465.5" y2="284.5" stroke="#ffffff" stroke-width="1.25" />
<line x1="160.5" y1="341.5" x2="182.4" y2="341.5" stroke="#ffffff" stroke-width="1.25" />
<line x1="233.6" y1="341.5" x2="250.8" y2="341.5" stroke="#ffffff" stroke-width="1.25" />
<line x1="261.1" y1="341.5" x2="293.7" y2="341.5" stroke="#ffffff" stroke-width="1.25" />
<line x1="304.5" y1="341.5" x2="465.5" y2="341.5" stroke="#ffffff" stroke-width="1.25" />
<rect x="102.5" y="357.5" width="13.0" height="9.0" rx="0" stroke="#ffffff" stroke-width="1.25" fill="none"/>
<rect x="94.5" y="366.5" width="57.0" height="11.0" rx="0" stroke="#ffffff" stroke-width="1.38" fill="none"/>
<rect x="102.5" y="377.5" width="13.0" height="6.0" rx="0" stroke="#ffffff" stroke-width="1.25" fill="none"/>
<line x1="88" y1="371.5" x2="160" y2="371.5" stroke="#303030" stroke-width="1.0" />
<line x1="108.5" y1="360" x2="108.5" y2="417" stroke="#303030" stroke-width="1.0" />
<rect x="91.5" y="385.5" width="17.0" height="17.0" rx="2.5" stroke="#ffffff" stroke-width="1.38" fill="none"/>
<line x1="94.5" y1="388.5" x2="107" y2="388.5" stroke="#ffffff" stroke-width="1.0" />
<line x1="94.5" y1="400.5" x2="107" y2="400.5" stroke="#ffffff" stroke-width="1.0" />
<path d="M95.3,390 L99.3,393 M99.3,390 L95.3,393 M95.3,395.5 L99.3,398.7 M99.3,395.5 L95.3,398.7" stroke="#ffffff" stroke-width="1.12" fill="none" />
<path d="M101.3,390 L105.3,393 M105.3,390 L101.3,393 M101.3,395.5 L105.3,398.7 M105.3,395.5 L101.3,398.7" stroke="#ffffff" stroke-width="1.12" fill="none" />
<line x1="94" y1="394.5" x2="106" y2="394.5" stroke="#ffffff" stroke-width="1.0" />
<rect x="96.5" y="402.5" width="9.0" height="3.0" rx="0" stroke="#ffffff" stroke-width="1.0" fill="none"/>
<path d="M110.2,388.2 L113.5,388.2 L125,391.2 L125,399.6 L113.5,402.3 L110.2,402.3 Z" stroke="#ffffff" stroke-width="1.25" fill="none" />
<line x1="113.5" y1="388.2" x2="113.5" y2="402.3" stroke="#ffffff" stroke-width="1.0" />
<rect x="108.5" y="392.5" width="2.0" height="5.0" rx="0" stroke="#ffffff" stroke-width="1.0" fill="none"/>
<rect x="124.5" y="381.5" width="27.0" height="28.0" rx="0" stroke="#ffffff" stroke-width="1.38" fill="none"/>
<line x1="127" y1="387.5" x2="151.4" y2="387.5" stroke="#ffffff" stroke-width="1.38" />
<line x1="127" y1="401.5" x2="151.4" y2="401.5" stroke="#ffffff" stroke-width="1.38" />
<line x1="127" y1="403.5" x2="151.4" y2="403.5" stroke="#ffffff" stroke-width="1.25" />
<line x1="127.5" y1="381.6" x2="127.5" y2="409" stroke="#ffffff" stroke-width="1.5" />
<line x1="120" y1="394.5" x2="160" y2="394.5" stroke="#303030" stroke-width="1.0" />
<rect x="98.5" y="406.5" width="22.0" height="10.0" rx="0" stroke="#ffffff" stroke-width="1.25" fill="none"/>
<rect x="100" y="408.2" width="18.2" height="7.0" rx="0" stroke="#eee" stroke-width="0.75" fill="#e6e6e6"/>
<line x1="120" y1="410.5" x2="152" y2="410.5" stroke="#ffffff" stroke-width="1.12" stroke-dasharray="1.2 1"/>
<line x1="120" y1="408.5" x2="128" y2="408.5" stroke="#ffffff" stroke-width="1.0" />
<line x1="109.5" y1="417.7" x2="109.5" y2="427.5" stroke="#555" stroke-width="1.0" />
<line x1="160.5" y1="407.7" x2="250.3" y2="345.2" stroke="#ffffff" stroke-width="1.25" />
<line x1="162" y1="413.7" x2="252.5" y2="347.8" stroke="#ffffff" stroke-width="1.25" />
<rect x="182.5" y="278.5" width="51.0" height="69.0" rx="3.5" stroke="#ffffff" stroke-width="1.38" fill="none"/>
<line x1="186.5" y1="279" x2="186.5" y2="347" stroke="#ffffff" stroke-width="1.0" />
<line x1="229.5" y1="279" x2="229.5" y2="347" stroke="#ffffff" stroke-width="1.0" />
<line x1="188.5" y1="284.5" x2="188.5" y2="341" stroke="#ffffff" stroke-width="1.12" />
<line x1="227.5" y1="284.5" x2="227.5" y2="341" stroke="#828282" stroke-width="0.88" stroke-dasharray="3 1.5"/>
<line x1="186.4" y1="286.5" x2="229.4" y2="286.5" stroke="#ffffff" stroke-width="1.12" />
<line x1="186.4" y1="338.5" x2="229.4" y2="338.5" stroke="#ffffff" stroke-width="1.12" />
<line x1="188.6" y1="294.5" x2="199.4" y2="294.5" stroke="#ffffff" stroke-width="1.12" />
<line x1="188.6" y1="328.5" x2="199.4" y2="328.5" stroke="#ffffff" stroke-width="1.12" />
<rect x="199.5" y="289.5" width="20.0" height="47.0" rx="0" stroke="#ffffff" stroke-width="1.25" fill="none"/>
<line x1="206.5" y1="289.4" x2="206.5" y2="336.6" stroke="#ffffff" stroke-width="1.12" />
<line x1="209.5" y1="289.4" x2="209.5" y2="336.6" stroke="#ffffff" stroke-width="1.12" />
<line x1="217.5" y1="292" x2="217.5" y2="334" stroke="#ffffff" stroke-width="1.0" />
<rect x="212.3" y="292.3" width="3.9" height="1.8" rx="0.8" stroke="#ffffff" stroke-width="0.88" fill="#ddd"/>
<rect x="212.5" y="305.5" width="4.0" height="1.0" rx="0.8" stroke="#ffffff" stroke-width="0.88" fill="none"/>
<rect x="212.5" y="318.5" width="4.0" height="1.0" rx="0.8" stroke="#ffffff" stroke-width="0.88" fill="none"/>
<rect x="212.3" y="331.3" width="3.9" height="1.8" rx="0.8" stroke="#ffffff" stroke-width="0.88" fill="#ddd"/>
<line x1="191.4" y1="281.5" x2="194.4" y2="281.5" stroke="#fff" stroke-width="1.12" />
<line x1="192.5" y1="279.9" x2="192.5" y2="282.9" stroke="#fff" stroke-width="1.12" />
<line x1="191.4" y1="344.5" x2="194.4" y2="344.5" stroke="#fff" stroke-width="1.12" />
<line x1="192.5" y1="343.2" x2="192.5" y2="346.2" stroke="#fff" stroke-width="1.12" />
<line x1="200.3" y1="281.5" x2="203.3" y2="281.5" stroke="#fff" stroke-width="1.12" />
<line x1="201.5" y1="279.9" x2="201.5" y2="282.9" stroke="#fff" stroke-width="1.12" />
<line x1="200.3" y1="344.5" x2="203.3" y2="344.5" stroke="#fff" stroke-width="1.12" />
<line x1="201.5" y1="343.2" x2="201.5" y2="346.2" stroke="#fff" stroke-width="1.12" />
<line x1="211.0" y1="281.5" x2="214.0" y2="281.5" stroke="#fff" stroke-width="1.12" />
<line x1="212.5" y1="279.9" x2="212.5" y2="282.9" stroke="#fff" stroke-width="1.12" />
<line x1="211.0" y1="344.5" x2="214.0" y2="344.5" stroke="#fff" stroke-width="1.12" />
<line x1="212.5" y1="343.2" x2="212.5" y2="346.2" stroke="#fff" stroke-width="1.12" />
<line x1="220.8" y1="281.5" x2="223.8" y2="281.5" stroke="#fff" stroke-width="1.12" />
<line x1="222.5" y1="279.9" x2="222.5" y2="282.9" stroke="#fff" stroke-width="1.12" />
<line x1="220.8" y1="344.5" x2="223.8" y2="344.5" stroke="#fff" stroke-width="1.12" />
<line x1="222.5" y1="343.2" x2="222.5" y2="346.2" stroke="#fff" stroke-width="1.12" />
<line x1="186" y1="281.5" x2="230" y2="281.5" stroke="#303030" stroke-width="0.88" />
<line x1="186" y1="344.5" x2="230" y2="344.5" stroke="#303030" stroke-width="0.88" />
<rect x="250.5" y="278.5" width="11.0" height="69.0" rx="3.5" stroke="#ffffff" stroke-width="1.38" fill="none"/>
<line x1="252.5" y1="280.5" x2="252.5" y2="345.5" stroke="#ffffff" stroke-width="1.0" />
<line x1="256.5" y1="279" x2="256.5" y2="347" stroke="#ffffff" stroke-width="1.88" />
<line x1="259.5" y1="280.5" x2="259.5" y2="345.5" stroke="#ffffff" stroke-width="1.0" />
<rect x="293.5" y="278.5" width="11.0" height="69.0" rx="3.5" stroke="#ffffff" stroke-width="1.38" fill="none"/>
<line x1="295.5" y1="280.5" x2="295.5" y2="345.5" stroke="#ffffff" stroke-width="1.0" />
<line x1="299.5" y1="279" x2="299.5" y2="347" stroke="#ffffff" stroke-width="1.88" />
<line x1="302.5" y1="280.5" x2="302.5" y2="345.5" stroke="#ffffff" stroke-width="1.0" />
<rect x="465.5" y="278.5" width="11.0" height="69.0" rx="3.5" stroke="#ffffff" stroke-width="1.38" fill="none"/>
<line x1="467.5" y1="280.5" x2="467.5" y2="345.5" stroke="#ffffff" stroke-width="1.0" />
<line x1="471.5" y1="279" x2="471.5" y2="347" stroke="#ffffff" stroke-width="1.88" />
<line x1="474.5" y1="280.5" x2="474.5" y2="345.5" stroke="#ffffff" stroke-width="1.0" />
<rect x="342.5" y="287.5" width="85.0" height="51.0" rx="0" stroke="#ffffff" stroke-width="1.38" fill="none"/>
<line x1="342.2" y1="281.0" x2="428" y2="281.0" stroke="#ffffff" stroke-width="2.12" />
<line x1="342.2" y1="345.0" x2="428" y2="345.0" stroke="#ffffff" stroke-width="2.12" />
<line x1="345.5" y1="280.8" x2="345.5" y2="284.3" stroke="#ffffff" stroke-width="1.75" />
<line x1="345.5" y1="341.3" x2="345.5" y2="344.9" stroke="#ffffff" stroke-width="1.75" />
<line x1="424.5" y1="280.8" x2="424.5" y2="284.3" stroke="#ffffff" stroke-width="1.75" />
<line x1="424.5" y1="341.3" x2="424.5" y2="344.9" stroke="#ffffff" stroke-width="1.75" />
<line x1="342.2" y1="284.5" x2="428" y2="284.5" stroke="#ffffff" stroke-width="1.25" />
<line x1="342.2" y1="341.5" x2="428" y2="341.5" stroke="#ffffff" stroke-width="1.25" />
<line x1="344.5" y1="276" x2="344.5" y2="288" stroke="#303030" stroke-width="1.0" />
<line x1="344.5" y1="338" x2="344.5" y2="350" stroke="#303030" stroke-width="1.0" />
<line x1="425.5" y1="276" x2="425.5" y2="288" stroke="#303030" stroke-width="1.0" />
<line x1="425.5" y1="338" x2="425.5" y2="350" stroke="#303030" stroke-width="1.0" />
<rect x="380.5" y="275.5" width="10.0" height="5.0" rx="0" stroke="#ffffff" stroke-width="1.25" fill="none"/>
<rect x="382.5" y="277.5" width="5.0" height="3.0" rx="0" stroke="#ffffff" stroke-width="1.0" fill="none"/>
<rect x="380.5" y="344.5" width="10.0" height="6.0" rx="0" stroke="#ffffff" stroke-width="1.25" fill="none"/>
<rect x="382.5" y="344.5" width="5.0" height="4.0" rx="0" stroke="#ffffff" stroke-width="1.0" fill="none"/>
<line x1="359.0" y1="307.2" x2="359.0" y2="317.7" stroke="#ffffff" stroke-width="2.12" />
<line x1="411.0" y1="307.2" x2="411.0" y2="317.7" stroke="#ffffff" stroke-width="2.12" />
<line x1="348.5" y1="287" x2="348.5" y2="292" stroke="#3e3e3e" stroke-width="1.0" />
<line x1="346.3" y1="289.5" x2="350.7" y2="289.5" stroke="#3e3e3e" stroke-width="1.0" />
<line x1="348.5" y1="333.6" x2="348.5" y2="338.6" stroke="#3e3e3e" stroke-width="1.0" />
<line x1="346.3" y1="336.5" x2="350.7" y2="336.5" stroke="#3e3e3e" stroke-width="1.0" />
<line x1="348.5" y1="286.2" x2="348.5" y2="288.2" stroke="#000" stroke-width="1.25" />
<line x1="348.5" y1="337.5" x2="348.5" y2="339.5" stroke="#000" stroke-width="1.25" />
<line x1="363.5" y1="287" x2="363.5" y2="292" stroke="#3e3e3e" stroke-width="1.0" />
<line x1="361.0" y1="289.5" x2="365.4" y2="289.5" stroke="#3e3e3e" stroke-width="1.0" />
<line x1="363.5" y1="333.6" x2="363.5" y2="338.6" stroke="#3e3e3e" stroke-width="1.0" />
<line x1="361.0" y1="336.5" x2="365.4" y2="336.5" stroke="#3e3e3e" stroke-width="1.0" />
<line x1="363.5" y1="286.2" x2="363.5" y2="288.2" stroke="#000" stroke-width="1.25" />
<line x1="363.5" y1="337.5" x2="363.5" y2="339.5" stroke="#000" stroke-width="1.25" />
<line x1="377.5" y1="287" x2="377.5" y2="292" stroke="#3e3e3e" stroke-width="1.0" />
<line x1="375.40000000000003" y1="289.5" x2="379.8" y2="289.5" stroke="#3e3e3e" stroke-width="1.0" />
<line x1="377.5" y1="333.6" x2="377.5" y2="338.6" stroke="#3e3e3e" stroke-width="1.0" />
<line x1="375.40000000000003" y1="336.5" x2="379.8" y2="336.5" stroke="#3e3e3e" stroke-width="1.0" />
<line x1="377.5" y1="286.2" x2="377.5" y2="288.2" stroke="#000" stroke-width="1.25" />
<line x1="377.5" y1="337.5" x2="377.5" y2="339.5" stroke="#000" stroke-width="1.25" />
<line x1="392.5" y1="287" x2="392.5" y2="292" stroke="#3e3e3e" stroke-width="1.0" />
<line x1="390.3" y1="289.5" x2="394.7" y2="289.5" stroke="#3e3e3e" stroke-width="1.0" />
<line x1="392.5" y1="333.6" x2="392.5" y2="338.6" stroke="#3e3e3e" stroke-width="1.0" />
<line x1="390.3" y1="336.5" x2="394.7" y2="336.5" stroke="#3e3e3e" stroke-width="1.0" />
<line x1="392.5" y1="286.2" x2="392.5" y2="288.2" stroke="#000" stroke-width="1.25" />
<line x1="392.5" y1="337.5" x2="392.5" y2="339.5" stroke="#000" stroke-width="1.25" />
<line x1="407.5" y1="287" x2="407.5" y2="292" stroke="#3e3e3e" stroke-width="1.0" />
<line x1="405.0" y1="289.5" x2="409.4" y2="289.5" stroke="#3e3e3e" stroke-width="1.0" />
<line x1="407.5" y1="333.6" x2="407.5" y2="338.6" stroke="#3e3e3e" stroke-width="1.0" />
<line x1="405.0" y1="336.5" x2="409.4" y2="336.5" stroke="#3e3e3e" stroke-width="1.0" />
<line x1="407.5" y1="286.2" x2="407.5" y2="288.2" stroke="#000" stroke-width="1.25" />
<line x1="407.5" y1="337.5" x2="407.5" y2="339.5" stroke="#000" stroke-width="1.25" />
<line x1="421.5" y1="287" x2="421.5" y2="292" stroke="#3e3e3e" stroke-width="1.0" />
<line x1="419.3" y1="289.5" x2="423.7" y2="289.5" stroke="#3e3e3e" stroke-width="1.0" />
<line x1="421.5" y1="333.6" x2="421.5" y2="338.6" stroke="#3e3e3e" stroke-width="1.0" />
<line x1="419.3" y1="336.5" x2="423.7" y2="336.5" stroke="#3e3e3e" stroke-width="1.0" />
<line x1="421.5" y1="286.2" x2="421.5" y2="288.2" stroke="#000" stroke-width="1.25" />
<line x1="421.5" y1="337.5" x2="421.5" y2="339.5" stroke="#000" stroke-width="1.25" />
<line x1="342.3" y1="297.5" x2="347" y2="297.5" stroke="#3e3e3e" stroke-width="1.0" />
<line x1="344.5" y1="294.8" x2="344.5" y2="299.2" stroke="#3e3e3e" stroke-width="1.0" />
<line x1="423.5" y1="297.5" x2="428" y2="297.5" stroke="#3e3e3e" stroke-width="1.0" />
<line x1="425.5" y1="294.8" x2="425.5" y2="299.2" stroke="#3e3e3e" stroke-width="1.0" />
<line x1="342.3" y1="306.5" x2="347" y2="306.5" stroke="#3e3e3e" stroke-width="1.0" />
<line x1="344.5" y1="303.8" x2="344.5" y2="308.2" stroke="#3e3e3e" stroke-width="1.0" />
<line x1="423.5" y1="306.5" x2="428" y2="306.5" stroke="#3e3e3e" stroke-width="1.0" />
<line x1="425.5" y1="303.8" x2="425.5" y2="308.2" stroke="#3e3e3e" stroke-width="1.0" />
<line x1="342.3" y1="319.5" x2="347" y2="319.5" stroke="#3e3e3e" stroke-width="1.0" />
<line x1="344.5" y1="316.8" x2="344.5" y2="321.2" stroke="#3e3e3e" stroke-width="1.0" />
<line x1="423.5" y1="319.5" x2="428" y2="319.5" stroke="#3e3e3e" stroke-width="1.0" />
<line x1="425.5" y1="316.8" x2="425.5" y2="321.2" stroke="#3e3e3e" stroke-width="1.0" />
<line x1="342.3" y1="328.5" x2="347" y2="328.5" stroke="#3e3e3e" stroke-width="1.0" />
<line x1="344.5" y1="325.8" x2="344.5" y2="330.2" stroke="#3e3e3e" stroke-width="1.0" />
<line x1="423.5" y1="328.5" x2="428" y2="328.5" stroke="#3e3e3e" stroke-width="1.0" />
<line x1="425.5" y1="325.8" x2="425.5" y2="330.2" stroke="#3e3e3e" stroke-width="1.0" />
<path d="M615.5,278.5 L488.2,278.5 Q486.6,278.5 486.6,279.5 Q486.6,280.5 488.2,280.5 L502.5,280.5 L502.5,284" stroke="#ffffff" stroke-width="1.38" fill="none" />
<line x1="502.2" y1="281.5" x2="615.3" y2="281.5" stroke="#3a3a3a" stroke-width="0.88" />
<line x1="476.3" y1="284.5" x2="638.4" y2="284.5" stroke="#ffffff" stroke-width="1.5" />
<path d="M615.5,347.5 L488.2,347.5 Q486.6,347.5 486.6,346.5 Q486.6,345.5 488.2,345.5 L502.5,345.5 L502.5,341.7" stroke="#ffffff" stroke-width="1.38" fill="none" />
<line x1="502.2" y1="344.5" x2="615.3" y2="344.5" stroke="#3a3a3a" stroke-width="0.88" />
<line x1="476.3" y1="341.5" x2="638.4" y2="341.5" stroke="#ffffff" stroke-width="1.5" />
<line x1="615.5" y1="278.1" x2="615.5" y2="284.4" stroke="#ffffff" stroke-width="1.25" />
<line x1="615.5" y1="341.5" x2="615.5" y2="347.6" stroke="#ffffff" stroke-width="1.25" />
<rect x="514.9" y="280.3" width="1.8" height="1.8" fill="#f0f0f0"/>
<rect x="514.9" y="343.6" width="1.8" height="1.8" fill="#f0f0f0"/>
<rect x="532.3000000000001" y="280.3" width="1.8" height="1.8" fill="#f0f0f0"/>
<rect x="532.3000000000001" y="343.6" width="1.8" height="1.8" fill="#f0f0f0"/>
<rect x="549.8000000000001" y="280.3" width="1.8" height="1.8" fill="#f0f0f0"/>
<rect x="549.8000000000001" y="343.6" width="1.8" height="1.8" fill="#f0f0f0"/>
<rect x="567.2" y="280.3" width="1.8" height="1.8" fill="#f0f0f0"/>
<rect x="567.2" y="343.6" width="1.8" height="1.8" fill="#f0f0f0"/>
<rect x="584.2" y="280.3" width="1.8" height="1.8" fill="#f0f0f0"/>
<rect x="584.2" y="343.6" width="1.8" height="1.8" fill="#f0f0f0"/>
<rect x="601.0" y="280.3" width="1.8" height="1.8" fill="#f0f0f0"/>
<rect x="601.0" y="343.6" width="1.8" height="1.8" fill="#f0f0f0"/>
<path d="M506,278.1 L506,276 Q506,275.2 507,275.2 L509.4,275.2 Q510.4,275.2 510.4,276 L510.4,278.1" stroke="#ffffff" stroke-width="1.25" fill="none" />
<path d="M506,347.6 L506,349.7 Q506,350.5 507,350.5 L509.4,350.5 Q510.4,350.5 510.4,349.7 L510.4,347.6" stroke="#ffffff" stroke-width="1.25" fill="none" />
<path d="M528.4,278.1 L528.4,276 Q528.4,275.2 529.4,275.2 L534.6,275.2 Q535.6,275.2 535.6,276 L535.6,278.1" stroke="#ffffff" stroke-width="1.25" fill="none" />
<path d="M528.4,347.6 L528.4,349.7 Q528.4,350.5 529.4,350.5 L534.6,350.5 Q535.6,350.5 535.6,349.7 L535.6,347.6" stroke="#ffffff" stroke-width="1.25" fill="none" />
<path d="M548.3,278.1 L548.3,274.2 Q548.3,273 549.8,273 L575.3,273 Q576.8,273 576.8,274.2 L576.8,278.1" stroke="#ffffff" stroke-width="1.25" fill="none" />
<path d="M552.8,273 Q559.5,270.2 566,273" stroke="#ffffff" stroke-width="1.12" fill="none" />
<line x1="555.5" y1="273" x2="555.5" y2="278.1" stroke="#ffffff" stroke-width="1.0" />
<line x1="565.5" y1="273" x2="565.5" y2="278.1" stroke="#ffffff" stroke-width="1.0" />
<line x1="549" y1="275.5" x2="576" y2="275.5" stroke="#ffffff" stroke-width="1.0" />
<path d="M548.3,347.6 L548.3,351.5 Q548.3,352.7 549.8,352.7 L575.3,352.7 Q576.8,352.7 576.8,351.5 L576.8,347.6" stroke="#ffffff" stroke-width="1.25" fill="none" />
<path d="M552.8,352.7 Q559.5,355.5 566,352.7" stroke="#ffffff" stroke-width="1.12" fill="none" />
<line x1="555.5" y1="347.6" x2="555.5" y2="352.7" stroke="#ffffff" stroke-width="1.0" />
<line x1="565.5" y1="347.6" x2="565.5" y2="352.7" stroke="#ffffff" stroke-width="1.0" />
<line x1="549" y1="350.5" x2="576" y2="350.5" stroke="#ffffff" stroke-width="1.0" />
<line x1="559.5" y1="271.5" x2="559.5" y2="355" stroke="#c0c0c0" stroke-width="1.12" />
<path d="M495.9,284.3 Q494.6,292 495,297 Q495.8,304 498.4,308.5 Q499.8,312.3 498.4,316.5 Q495.8,323 495.4,332 L495.9,341.4" stroke="#d0d0d0" stroke-width="1.25" fill="none" />
<line x1="496.4" y1="288.5" x2="535.4" y2="288.5" stroke="#ffffff" stroke-width="1.25" />
<line x1="496.4" y1="337.5" x2="535.4" y2="337.5" stroke="#ffffff" stroke-width="1.25" />
<line x1="495" y1="294.5" x2="534.5" y2="294.5" stroke="#ffffff" stroke-width="1.25" />
<line x1="495.5" y1="331.5" x2="534.5" y2="331.5" stroke="#ffffff" stroke-width="1.25" />
<line x1="535.5" y1="284.3" x2="535.5" y2="341.4" stroke="#ffffff" stroke-width="1.75" />
<line x1="537.5" y1="287.2" x2="537.5" y2="338" stroke="#ffffff" stroke-width="1.06" />
<line x1="540.5" y1="287.2" x2="540.5" y2="338" stroke="#ffffff" stroke-width="1.06" />
<line x1="542.5" y1="287.2" x2="542.5" y2="338" stroke="#ffffff" stroke-width="1.06" />
<line x1="545.5" y1="287.2" x2="545.5" y2="338" stroke="#ffffff" stroke-width="1.06" />
<line x1="548.5" y1="287.2" x2="548.5" y2="338" stroke="#ffffff" stroke-width="1.06" />
<line x1="535.4" y1="287.5" x2="561" y2="287.5" stroke="#ffffff" stroke-width="1.38" />
<line x1="535.4" y1="338.5" x2="561" y2="338.5" stroke="#ffffff" stroke-width="1.38" />
<line x1="540.3" y1="289.5" x2="542.8" y2="289.5" stroke="#ddd" stroke-width="0.88" />
<line x1="545.9" y1="292.5" x2="548.8" y2="292.5" stroke="#ddd" stroke-width="0.88" />
<line x1="540.3" y1="294.5" x2="542.8" y2="294.5" stroke="#ddd" stroke-width="0.88" />
<line x1="545.9" y1="297.5" x2="548.8" y2="297.5" stroke="#ddd" stroke-width="0.88" />
<line x1="540.3" y1="300.5" x2="542.8" y2="300.5" stroke="#ddd" stroke-width="0.88" />
<line x1="545.9" y1="302.5" x2="548.8" y2="302.5" stroke="#ddd" stroke-width="0.88" />
<line x1="540.3" y1="305.5" x2="542.8" y2="305.5" stroke="#ddd" stroke-width="0.88" />
<line x1="545.9" y1="307.5" x2="548.8" y2="307.5" stroke="#ddd" stroke-width="0.88" />
<line x1="540.3" y1="310.5" x2="542.8" y2="310.5" stroke="#ddd" stroke-width="0.88" />
<line x1="545.9" y1="313.5" x2="548.8" y2="313.5" stroke="#ddd" stroke-width="0.88" />
<line x1="540.3" y1="315.5" x2="542.8" y2="315.5" stroke="#ddd" stroke-width="0.88" />
<line x1="545.9" y1="318.5" x2="548.8" y2="318.5" stroke="#ddd" stroke-width="0.88" />
<line x1="540.3" y1="320.5" x2="542.8" y2="320.5" stroke="#ddd" stroke-width="0.88" />
<line x1="545.9" y1="323.5" x2="548.8" y2="323.5" stroke="#ddd" stroke-width="0.88" />
<line x1="540.3" y1="325.5" x2="542.8" y2="325.5" stroke="#ddd" stroke-width="0.88" />
<line x1="545.9" y1="328.5" x2="548.8" y2="328.5" stroke="#ddd" stroke-width="0.88" />
<line x1="540.3" y1="331.5" x2="542.8" y2="331.5" stroke="#ddd" stroke-width="0.88" />
<line x1="545.9" y1="333.5" x2="548.8" y2="333.5" stroke="#ddd" stroke-width="0.88" />
<line x1="540.3" y1="336.5" x2="542.8" y2="336.5" stroke="#ddd" stroke-width="0.88" />
<line x1="545.9" y1="338.5" x2="548.8" y2="338.5" stroke="#ddd" stroke-width="0.88" />
<line x1="535.4" y1="312.5" x2="555" y2="312.5" stroke="#ffffff" stroke-width="1.25" />
<path d="M537,310.2 L539,312.6 L537,315" stroke="#ffffff" stroke-width="1.0" fill="none" />
<path d="M559.6,290.4 L552.6,290.4 Q550.2,290.4 550.2,292.8 L550.2,302.1 Q550.2,304.5 552.6,304.5 L559.6,304.5" stroke="#ffffff" stroke-width="1.25" fill="none" />
<path d="M559.6,320.8 L552.6,320.8 Q550.2,320.8 550.2,323.2 L550.2,332 Q550.2,334.4 552.6,334.4 L559.6,334.4" stroke="#ffffff" stroke-width="1.25" fill="none" />
<line x1="554.5" y1="304.5" x2="554.5" y2="320.8" stroke="#ffffff" stroke-width="1.12" />
<line x1="557.5" y1="304.5" x2="557.5" y2="320.8" stroke="#ffffff" stroke-width="1.0" />
<line x1="553.5" y1="284.3" x2="553.5" y2="290.4" stroke="#ffffff" stroke-width="1.12" />
<line x1="553.5" y1="334.4" x2="553.5" y2="341.4" stroke="#ffffff" stroke-width="1.12" />
<rect x="561.5" y="287.5" width="62.0" height="51.0" rx="0" stroke="#ffffff" stroke-width="1.5" fill="none"/>
<rect x="563.5" y="289.5" width="58.0" height="47.0" rx="0" stroke="#5a5a5a" stroke-width="1.0" fill="none"/>
<line x1="575.0" y1="308.4" x2="575.0" y2="317.8" stroke="#ffffff" stroke-width="2.12" />
<line x1="609.0" y1="308.4" x2="609.0" y2="317.8" stroke="#ffffff" stroke-width="2.12" />
<rect x="568.6999999999999" y="288.5" width="2.2" height="2.2" fill="#fff"/>
<rect x="568.6999999999999" y="335.4" width="2.2" height="2.2" fill="#fff"/>
<rect x="583.4" y="288.5" width="2.2" height="2.2" fill="#fff"/>
<rect x="583.4" y="335.4" width="2.2" height="2.2" fill="#fff"/>
<rect x="597.9" y="288.5" width="2.2" height="2.2" fill="#fff"/>
<rect x="597.9" y="335.4" width="2.2" height="2.2" fill="#fff"/>
<rect x="612.6999999999999" y="288.5" width="2.2" height="2.2" fill="#fff"/>
<rect x="612.6999999999999" y="335.4" width="2.2" height="2.2" fill="#fff"/>
<rect x="562.6" y="290.4" width="2.2" height="2.2" fill="#fff"/>
<rect x="619.6999999999999" y="290.4" width="2.2" height="2.2" fill="#fff"/>
<rect x="562.6" y="304.7" width="2.2" height="2.2" fill="#fff"/>
<rect x="619.6999999999999" y="304.7" width="2.2" height="2.2" fill="#fff"/>
<rect x="562.6" y="318.9" width="2.2" height="2.2" fill="#fff"/>
<rect x="619.6999999999999" y="318.9" width="2.2" height="2.2" fill="#fff"/>
<rect x="562.6" y="333.59999999999997" width="2.2" height="2.2" fill="#fff"/>
<rect x="619.6999999999999" y="333.59999999999997" width="2.2" height="2.2" fill="#fff"/>
<rect x="638.5" y="278.5" width="5.0" height="69.0" rx="2.5" stroke="#ffffff" stroke-width="1.38" fill="none"/>
<line x1="513.5" y1="260" x2="513.5" y2="266" stroke="#ffffff" stroke-width="1.38" />
<line x1="8.8" y1="13.5" x2="17.0" y2="13.5" stroke="#828282" stroke-width="1.12" />
<rect x="11.00" y="8.60" width="2.8" height="4.4" fill="#828282"/>
<line x1="17.0" y1="13.4" x2="77" y2="81.5" stroke="#7c7c7c" stroke-width="0.88" />
<rect x="76.1" y="80.6" width="1.8" height="1.8" fill="#828282"/>
<line x1="56.8" y1="13.5" x2="65.0" y2="13.5" stroke="#828282" stroke-width="1.12" />
<rect x="59.00" y="8.60" width="2.8" height="4.4" fill="#828282"/>
<line x1="65.0" y1="13.4" x2="125.5" y2="81.5" stroke="#7c7c7c" stroke-width="0.88" />
<rect x="124.6" y="80.6" width="1.8" height="1.8" fill="#828282"/>
<line x1="85.8" y1="13.5" x2="94.0" y2="13.5" stroke="#828282" stroke-width="1.12" />
<rect x="88.00" y="8.60" width="2.8" height="4.4" fill="#828282"/>
<line x1="94.0" y1="13.4" x2="130" y2="48" stroke="#7c7c7c" stroke-width="0.88" />
<rect x="129.1" y="47.1" width="1.8" height="1.8" fill="#828282"/>
<line x1="157.5" y1="13.5" x2="165.7" y2="13.5" stroke="#828282" stroke-width="1.12" />
<rect x="159.70" y="8.60" width="2.8" height="4.4" fill="#828282"/>
<line x1="165.7" y1="13.4" x2="209.5" y2="81" stroke="#7c7c7c" stroke-width="0.88" />
<line x1="240.5" y1="11.5" x2="248.7" y2="11.5" stroke="#828282" stroke-width="1.12" />
<rect x="243.35" y="7.60" width="1.5" height="3.8" fill="#828282"/>
<line x1="248.7" y1="11.8" x2="237" y2="99.3" stroke="#7c7c7c" stroke-width="0.88" />
<line x1="267.8" y1="11.5" x2="276.0" y2="11.5" stroke="#828282" stroke-width="1.12" />
<rect x="270.65" y="7.60" width="1.5" height="3.8" fill="#828282"/>
<line x1="276.0" y1="11.8" x2="264.5" y2="118.6" stroke="#7c7c7c" stroke-width="0.88" />
<line x1="327.7" y1="11.5" x2="335.9" y2="11.5" stroke="#828282" stroke-width="1.12" />
<rect x="330.55" y="7.60" width="1.5" height="3.8" fill="#828282"/>
<line x1="335.9" y1="11.8" x2="380.3" y2="78.6" stroke="#7c7c7c" stroke-width="0.88" />
<rect x="379.40000000000003" y="77.69999999999999" width="1.8" height="1.8" fill="#828282"/>
<line x1="404.3" y1="11.5" x2="412.5" y2="11.5" stroke="#828282" stroke-width="1.12" />
<rect x="407.15" y="7.60" width="1.5" height="3.8" fill="#828282"/>
<line x1="412.5" y1="11.8" x2="417.5" y2="118.6" stroke="#7c7c7c" stroke-width="0.88" />
<rect x="416.6" y="117.69999999999999" width="1.8" height="1.8" fill="#828282"/>
<line x1="484.0" y1="11.5" x2="492.2" y2="11.5" stroke="#828282" stroke-width="1.12" />
<rect x="486.85" y="7.60" width="1.5" height="3.8" fill="#828282"/>
<line x1="492.2" y1="11.8" x2="536.8" y2="97.6" stroke="#7c7c7c" stroke-width="0.88" />
<rect x="535.9" y="96.69999999999999" width="1.8" height="1.8" fill="#828282"/>
<line x1="8.8" y1="71.5" x2="17.0" y2="71.5" stroke="#828282" stroke-width="1.12" />
<rect x="11.00" y="66.60" width="2.8" height="4.4" fill="#828282"/>
<line x1="17.0" y1="71.4" x2="142.5" y2="181" stroke="#7c7c7c" stroke-width="0.88" />
<rect x="141.6" y="180.1" width="1.8" height="1.8" fill="#828282"/>
<line x1="8.8" y1="106.5" x2="17.0" y2="106.5" stroke="#828282" stroke-width="1.12" />
<rect x="11.00" y="101.40" width="2.8" height="4.4" fill="#828282"/>
<line x1="17.0" y1="106.2" x2="101.5" y2="190.5" stroke="#7c7c7c" stroke-width="0.88" />
<rect x="100.6" y="189.6" width="1.8" height="1.8" fill="#828282"/>
<line x1="8.8" y1="136.5" x2="17.0" y2="136.5" stroke="#828282" stroke-width="1.12" />
<rect x="11.00" y="131.20" width="2.8" height="4.4" fill="#828282"/>
<line x1="17.0" y1="136" x2="100.5" y2="190.5" stroke="#7c7c7c" stroke-width="0.88" />
<rect x="99.6" y="189.6" width="1.8" height="1.8" fill="#828282"/>
<line x1="71.5" y1="240.5" x2="79.7" y2="240.5" stroke="#828282" stroke-width="1.12" />
<rect x="74.35" y="236.30" width="1.5" height="3.6" fill="#828282"/>
<line x1="79.7" y1="240.3" x2="103.9" y2="272.5" stroke="#7c7c7c" stroke-width="0.88" />
<rect x="103.0" y="271.6" width="1.8" height="1.8" fill="#828282"/>
<line x1="570.7" y1="240.5" x2="578.9000000000001" y2="240.5" stroke="#828282" stroke-width="1.12" />
<rect x="573.55" y="236.60" width="1.5" height="3.6" fill="#828282"/>
<line x1="578.9000000000001" y1="240.6" x2="561.5" y2="275.3" stroke="#7c7c7c" stroke-width="0.88" />
<rect x="560.6" y="274.40000000000003" width="1.8" height="1.8" fill="#828282"/>
<line x1="55.4" y1="416.5" x2="62.0" y2="416.5" stroke="#828282" stroke-width="1.12" />
<rect x="57.60" y="411.50" width="2.8" height="4.4" fill="#828282"/>
<line x1="62.0" y1="416.2" x2="98.5" y2="372" stroke="#7c7c7c" stroke-width="0.88" />
<rect x="97.6" y="371.1" width="1.8" height="1.8" fill="#828282"/>
<line x1="55.4" y1="442.5" x2="62.0" y2="442.5" stroke="#828282" stroke-width="1.12" />
<rect x="57.60" y="437.80" width="2.8" height="4.4" fill="#828282"/>
<line x1="62.0" y1="442.5" x2="94.2" y2="402.4" stroke="#7c7c7c" stroke-width="0.88" />
<line x1="55.4" y1="451.5" x2="62.0" y2="451.5" stroke="#828282" stroke-width="1.12" />
<rect x="57.60" y="446.80" width="2.8" height="4.4" fill="#828282"/>
<line x1="66.3" y1="451.5" x2="72.89999999999999" y2="451.5" stroke="#828282" stroke-width="1.12" />
<rect x="68.50" y="446.80" width="2.8" height="4.4" fill="#828282"/>
<line x1="72.89999999999999" y1="451.4" x2="100.8" y2="416.1" stroke="#7c7c7c" stroke-width="0.88" />
<line x1="76.3" y1="451.5" x2="82.89999999999999" y2="451.5" stroke="#828282" stroke-width="1.12" />
<rect x="78.50" y="446.80" width="2.8" height="4.4" fill="#828282"/>
<line x1="88.3" y1="451.5" x2="94.89999999999999" y2="451.5" stroke="#828282" stroke-width="1.12" />
<rect x="90.50" y="446.80" width="2.8" height="4.4" fill="#828282"/>
<line x1="94.89999999999999" y1="451.4" x2="119.4" y2="416.7" stroke="#7c7c7c" stroke-width="0.88" />
<line x1="120.5" y1="415.2" x2="132.5" y2="398.3" stroke="#7c7c7c" stroke-width="0.88" />
<rect x="131.6" y="397.40000000000003" width="1.8" height="1.8" fill="#828282"/>
<line x1="110.1" y1="451.5" x2="116.69999999999999" y2="451.5" stroke="#828282" stroke-width="1.12" />
<rect x="112.30" y="446.80" width="2.8" height="4.4" fill="#828282"/>
<line x1="116.69999999999999" y1="451.4" x2="157.8" y2="400.5" stroke="#7c7c7c" stroke-width="0.88" />
<rect x="156.9" y="399.6" width="1.8" height="1.8" fill="#828282"/>
<line x1="256.5" y1="451.5" x2="263.1" y2="451.5" stroke="#828282" stroke-width="1.12" />
<rect x="258.70" y="446.80" width="2.8" height="4.4" fill="#828282"/>
<line x1="263.1" y1="451.4" x2="330.4" y2="333.4" stroke="#7c7c7c" stroke-width="0.88" />
<rect x="329.5" y="332.5" width="1.8" height="1.8" fill="#828282"/>
<line x1="282.3" y1="451.5" x2="312.90000000000003" y2="451.5" stroke="#828282" stroke-width="1.12" />
<rect x="284.50" y="446.80" width="2.8" height="4.4" fill="#828282"/>
<rect x="292.50" y="446.80" width="2.8" height="4.4" fill="#828282"/>
<rect x="300.50" y="446.80" width="2.8" height="4.4" fill="#828282"/>
<rect x="308.50" y="446.80" width="2.8" height="4.4" fill="#828282"/>
<line x1="312.90000000000003" y1="451.4" x2="470.7" y2="285.8" stroke="#7c7c7c" stroke-width="0.88" />
<rect x="469.8" y="284.90000000000003" width="1.8" height="1.8" fill="#828282"/>
<line x1="381.3" y1="385.5" x2="537" y2="385.5" stroke="#e8e8e8" stroke-width="1.12" />
<line x1="381.3" y1="391.5" x2="537" y2="391.5" stroke="#e8e8e8" stroke-width="1.12" />
<line x1="381.3" y1="397.5" x2="537" y2="397.5" stroke="#e8e8e8" stroke-width="1.12" />
<line x1="381.3" y1="403.5" x2="537" y2="403.5" stroke="#a4a4a4" stroke-width="1.0" />
<line x1="381.3" y1="409.5" x2="537" y2="409.5" stroke="#a4a4a4" stroke-width="1.0" />
<line x1="381.3" y1="415.5" x2="537" y2="415.5" stroke="#a4a4a4" stroke-width="1.0" />
<line x1="381.3" y1="421.5" x2="537" y2="421.5" stroke="#a4a4a4" stroke-width="1.0" />
<line x1="381.3" y1="427.5" x2="537" y2="427.5" stroke="#a4a4a4" stroke-width="1.0" />
<line x1="381.3" y1="433.5" x2="537" y2="433.5" stroke="#a4a4a4" stroke-width="1.0" />
<line x1="381.3" y1="439.5" x2="537" y2="439.5" stroke="#a4a4a4" stroke-width="1.0" />
<line x1="381.3" y1="445.5" x2="537" y2="445.5" stroke="#a4a4a4" stroke-width="1.0" />
<line x1="381.3" y1="451.5" x2="537" y2="451.5" stroke="#a4a4a4" stroke-width="1.0" />
<line x1="381.3" y1="458.5" x2="537" y2="458.5" stroke="#a4a4a4" stroke-width="1.0" />
<line x1="381.3" y1="464.5" x2="537" y2="464.5" stroke="#a4a4a4" stroke-width="1.0" />
<line x1="381.5" y1="385.3" x2="381.5" y2="468" stroke="#b0b0b0" stroke-width="1.0" />
<line x1="389.5" y1="385.3" x2="389.5" y2="468" stroke="#b0b0b0" stroke-width="1.0" />
<line x1="424.5" y1="385.3" x2="424.5" y2="468" stroke="#b0b0b0" stroke-width="1.0" />
<line x1="463.5" y1="385.3" x2="463.5" y2="468" stroke="#b0b0b0" stroke-width="1.0" />
<line x1="471.5" y1="385.3" x2="471.5" y2="468" stroke="#b0b0b0" stroke-width="1.0" />
<line x1="501.5" y1="385.3" x2="501.5" y2="468" stroke="#b0b0b0" stroke-width="1.0" />
<line x1="510.5" y1="385.3" x2="510.5" y2="468" stroke="#b0b0b0" stroke-width="1.0" />
<line x1="519.5" y1="385.3" x2="519.5" y2="468" stroke="#b0b0b0" stroke-width="1.0" />
<rect x="383.0" y="386.6" width="5.0" height="3.8" fill="#8f8f8f" opacity="1"/>
<rect x="396.0" y="386.6" width="17.0" height="3.8" fill="#9a9a9a" opacity="1"/>
<rect x="427.5" y="386.3" width="4.1" height="4.4" fill="#989898"/>
<rect x="428.4" y="387.4" width="2.2" height="2.2" fill="#7c7c7c"/>
<rect x="432.5" y="386.3" width="4.1" height="4.4" fill="#989898"/>
<rect x="433.4" y="387.4" width="2.2" height="2.2" fill="#7c7c7c"/>
<rect x="465.8" y="386.7" width="2.8" height="3.6" fill="#999" opacity="1"/>
<rect x="502.5" y="386.7" width="6.3" height="3.6" fill="#8a8a8a" opacity="1"/>
<rect x="511.8" y="386.7" width="6.2" height="3.6" fill="#8a8a8a" opacity="1"/>
<rect x="383.0" y="392.7" width="5.0" height="3.8" fill="#8f8f8f" opacity="1"/>
<rect x="396.0" y="392.7" width="17.0" height="3.8" fill="#9a9a9a" opacity="1"/>
<rect x="427.5" y="392.4" width="3.6" height="4.4" fill="#989898"/>
<rect x="428.4" y="393.5" width="1.7" height="2.2" fill="#7c7c7c"/>
<rect x="432.0" y="392.4" width="3.6" height="4.4" fill="#989898"/>
<rect x="432.9" y="393.5" width="1.7" height="2.2" fill="#7c7c7c"/>
<rect x="465.8" y="392.8" width="2.8" height="3.6" fill="#999" opacity="1"/>
<rect x="502.5" y="392.8" width="6.3" height="3.6" fill="#8a8a8a" opacity="1"/>
<rect x="511.8" y="392.8" width="6.2" height="3.6" fill="#8a8a8a" opacity="1"/>
<rect x="383.0" y="398.7" width="5.0" height="3.8" fill="#8f8f8f" opacity="1"/>
<rect x="396.0" y="398.7" width="17.0" height="3.8" fill="#9a9a9a" opacity="1"/>
<rect x="427.5" y="398.4" width="4.8" height="4.4" fill="#989898"/>
<rect x="428.4" y="399.5" width="2.9" height="2.2" fill="#7c7c7c"/>
<rect x="433.2" y="398.4" width="4.8" height="4.4" fill="#989898"/>
<rect x="434.1" y="399.5" width="2.9" height="2.2" fill="#7c7c7c"/>
<rect x="438.8" y="398.4" width="4.8" height="4.4" fill="#989898"/>
<rect x="439.7" y="399.5" width="2.9" height="2.2" fill="#7c7c7c"/>
<rect x="465.8" y="398.8" width="2.8" height="3.6" fill="#999" opacity="1"/>
<rect x="502.5" y="398.8" width="6.3" height="3.6" fill="#8a8a8a" opacity="1"/>
<rect x="511.8" y="398.8" width="6.2" height="3.6" fill="#8a8a8a" opacity="1"/>
<rect x="383.0" y="404.8" width="5.0" height="3.8" fill="#8f8f8f" opacity="1"/>
<text filter="url(#gs)" x="394" y="408.48" font-family="Liberation Serif" font-size="5.4" fill="#a8a8a8" stroke="none" text-anchor="start" font-weight="bold" textLength="23" lengthAdjust="spacingAndGlyphs">THD315-20</text>
<rect x="427.5" y="404.5" width="3.9" height="4.4" fill="#989898"/>
<rect x="428.4" y="405.6" width="2.0" height="2.2" fill="#7c7c7c"/>
<rect x="432.3" y="404.5" width="3.9" height="4.4" fill="#989898"/>
<rect x="433.2" y="405.6" width="2.0" height="2.2" fill="#7c7c7c"/>
<rect x="437.1" y="404.5" width="3.9" height="4.4" fill="#989898"/>
<rect x="438.0" y="405.6" width="2.0" height="2.2" fill="#7c7c7c"/>
<rect x="441.9" y="404.5" width="3.9" height="4.4" fill="#989898"/>
<rect x="442.8" y="405.6" width="2.0" height="2.2" fill="#7c7c7c"/>
<rect x="446.7" y="404.5" width="3.9" height="4.4" fill="#989898"/>
<rect x="447.6" y="405.6" width="2.0" height="2.2" fill="#7c7c7c"/>
<rect x="465.8" y="404.9" width="2.8" height="3.6" fill="#999" opacity="1"/>
<rect x="502.5" y="404.9" width="6.3" height="3.6" fill="#8a8a8a" opacity="1"/>
<rect x="511.8" y="404.9" width="6.2" height="3.6" fill="#8a8a8a" opacity="1"/>
<rect x="383.0" y="410.8" width="5.0" height="3.8" fill="#8f8f8f" opacity="1"/>
<text filter="url(#gs)" x="394" y="414.54" font-family="Liberation Serif" font-size="5.4" fill="#a8a8a8" stroke="none" text-anchor="start" font-weight="bold" textLength="23" lengthAdjust="spacingAndGlyphs">THD315-19</text>
<rect x="427.5" y="410.5" width="3.8" height="4.4" fill="#989898"/>
<rect x="428.4" y="411.6" width="1.9" height="2.2" fill="#7c7c7c"/>
<rect x="432.2" y="410.5" width="3.8" height="4.4" fill="#989898"/>
<rect x="433.1" y="411.6" width="1.9" height="2.2" fill="#7c7c7c"/>
<rect x="436.8" y="410.5" width="3.8" height="4.4" fill="#989898"/>
<rect x="437.7" y="411.6" width="1.9" height="2.2" fill="#7c7c7c"/>
<rect x="465.8" y="410.9" width="2.8" height="3.6" fill="#999" opacity="1"/>
<rect x="502.5" y="410.9" width="6.3" height="3.6" fill="#8a8a8a" opacity="1"/>
<rect x="511.8" y="410.9" width="6.2" height="3.6" fill="#8a8a8a" opacity="1"/>
<rect x="383.0" y="416.9" width="5.0" height="3.8" fill="#8f8f8f" opacity="1"/>
<text filter="url(#gs)" x="394" y="420.6" font-family="Liberation Serif" font-size="5.4" fill="#a8a8a8" stroke="none" text-anchor="start" font-weight="bold" textLength="23" lengthAdjust="spacingAndGlyphs">THD315-18</text>
<rect x="427.5" y="416.6" width="4.1" height="4.4" fill="#989898"/>
<rect x="428.4" y="417.7" width="2.2" height="2.2" fill="#7c7c7c"/>
<rect x="432.5" y="416.6" width="4.1" height="4.4" fill="#989898"/>
<rect x="433.4" y="417.7" width="2.2" height="2.2" fill="#7c7c7c"/>
<rect x="437.5" y="416.6" width="4.1" height="4.4" fill="#989898"/>
<rect x="438.4" y="417.7" width="2.2" height="2.2" fill="#7c7c7c"/>
<rect x="442.5" y="416.6" width="4.1" height="4.4" fill="#989898"/>
<rect x="443.4" y="417.7" width="2.2" height="2.2" fill="#7c7c7c"/>
<rect x="465.8" y="417.0" width="2.8" height="3.6" fill="#999" opacity="1"/>
<rect x="479.5" y="417.1" width="15.5" height="3.4" fill="#8a8a8a" opacity="1"/>
<rect x="502.5" y="417.0" width="6.3" height="3.6" fill="#8a8a8a" opacity="1"/>
<rect x="511.8" y="417.0" width="6.2" height="3.6" fill="#8a8a8a" opacity="1"/>
<rect x="383.0" y="423.0" width="5.0" height="3.8" fill="#8f8f8f" opacity="1"/>
<text filter="url(#gs)" x="394" y="426.66" font-family="Liberation Serif" font-size="5.4" fill="#a8a8a8" stroke="none" text-anchor="start" font-weight="bold" textLength="23" lengthAdjust="spacingAndGlyphs">THD315-17</text>
<rect x="427.5" y="422.7" width="3.9" height="4.4" fill="#989898"/>
<rect x="428.4" y="423.8" width="2.0" height="2.2" fill="#7c7c7c"/>
<rect x="432.3" y="422.7" width="3.9" height="4.4" fill="#989898"/>
<rect x="433.2" y="423.8" width="2.0" height="2.2" fill="#7c7c7c"/>
<rect x="437.1" y="422.7" width="3.9" height="4.4" fill="#989898"/>
<rect x="438.0" y="423.8" width="2.0" height="2.2" fill="#7c7c7c"/>
<rect x="441.9" y="422.7" width="3.9" height="4.4" fill="#989898"/>
<rect x="442.8" y="423.8" width="2.0" height="2.2" fill="#7c7c7c"/>
<rect x="446.7" y="422.7" width="3.9" height="4.4" fill="#989898"/>
<rect x="447.6" y="423.8" width="2.0" height="2.2" fill="#7c7c7c"/>
<rect x="465.8" y="423.1" width="2.8" height="3.6" fill="#999" opacity="1"/>
<rect x="479.5" y="423.2" width="15.5" height="3.4" fill="#8a8a8a" opacity="1"/>
<rect x="502.5" y="423.1" width="6.3" height="3.6" fill="#8a8a8a" opacity="1"/>
<rect x="511.8" y="423.1" width="6.2" height="3.6" fill="#8a8a8a" opacity="1"/>
<rect x="383.0" y="429.0" width="5.0" height="3.8" fill="#8f8f8f" opacity="1"/>
<text filter="url(#gs)" x="394" y="432.72" font-family="Liberation Serif" font-size="5.4" fill="#a8a8a8" stroke="none" text-anchor="start" font-weight="bold" textLength="23" lengthAdjust="spacingAndGlyphs">THD315-16</text>
<rect x="427.5" y="428.7" width="3.9" height="4.4" fill="#989898"/>
<rect x="428.4" y="429.8" width="2.0" height="2.2" fill="#7c7c7c"/>
<rect x="432.3" y="428.7" width="3.9" height="4.4" fill="#989898"/>
<rect x="433.2" y="429.8" width="2.0" height="2.2" fill="#7c7c7c"/>
<rect x="437.1" y="428.7" width="3.9" height="4.4" fill="#989898"/>
<rect x="438.0" y="429.8" width="2.0" height="2.2" fill="#7c7c7c"/>
<rect x="441.9" y="428.7" width="3.9" height="4.4" fill="#989898"/>
<rect x="442.8" y="429.8" width="2.0" height="2.2" fill="#7c7c7c"/>
<rect x="446.7" y="428.7" width="3.9" height="4.4" fill="#989898"/>
<rect x="447.6" y="429.8" width="2.0" height="2.2" fill="#7c7c7c"/>
<rect x="465.8" y="429.1" width="2.8" height="3.6" fill="#999" opacity="1"/>
<rect x="479.5" y="429.2" width="15.5" height="3.4" fill="#8a8a8a" opacity="1"/>
<rect x="502.5" y="429.1" width="6.3" height="3.6" fill="#8a8a8a" opacity="1"/>
<rect x="511.8" y="429.1" width="6.2" height="3.6" fill="#8a8a8a" opacity="1"/>
<rect x="383.0" y="435.1" width="5.0" height="3.8" fill="#8f8f8f" opacity="1"/>
<text filter="url(#gs)" x="394" y="438.78000000000003" font-family="Liberation Serif" font-size="5.4" fill="#a8a8a8" stroke="none" text-anchor="start" font-weight="bold" textLength="23" lengthAdjust="spacingAndGlyphs">THD315-15</text>
<rect x="427.5" y="434.8" width="3.9" height="4.4" fill="#989898"/>
<rect x="428.4" y="435.9" width="2.0" height="2.2" fill="#7c7c7c"/>
<rect x="432.3" y="434.8" width="3.9" height="4.4" fill="#989898"/>
<rect x="433.2" y="435.9" width="2.0" height="2.2" fill="#7c7c7c"/>
<rect x="437.1" y="434.8" width="3.9" height="4.4" fill="#989898"/>
<rect x="438.0" y="435.9" width="2.0" height="2.2" fill="#7c7c7c"/>
<rect x="441.9" y="434.8" width="3.9" height="4.4" fill="#989898"/>
<rect x="442.8" y="435.9" width="2.0" height="2.2" fill="#7c7c7c"/>
<rect x="446.7" y="434.8" width="3.9" height="4.4" fill="#989898"/>
<rect x="447.6" y="435.9" width="2.0" height="2.2" fill="#7c7c7c"/>
<rect x="465.8" y="435.2" width="2.8" height="3.6" fill="#999" opacity="1"/>
<rect x="479.5" y="435.3" width="15.5" height="3.4" fill="#8a8a8a" opacity="1"/>
<rect x="502.5" y="435.2" width="6.3" height="3.6" fill="#8a8a8a" opacity="1"/>
<rect x="511.8" y="435.2" width="6.2" height="3.6" fill="#8a8a8a" opacity="1"/>
<rect x="383.0" y="441.1" width="5.0" height="3.8" fill="#8f8f8f" opacity="1"/>
<rect x="427.5" y="440.8" width="4.1" height="4.4" fill="#989898"/>
<rect x="428.4" y="441.9" width="2.2" height="2.2" fill="#7c7c7c"/>
<rect x="432.5" y="440.8" width="4.1" height="4.4" fill="#989898"/>
<rect x="433.4" y="441.9" width="2.2" height="2.2" fill="#7c7c7c"/>
<rect x="437.5" y="440.8" width="4.1" height="4.4" fill="#989898"/>
<rect x="438.4" y="441.9" width="2.2" height="2.2" fill="#7c7c7c"/>
<rect x="442.5" y="440.8" width="4.1" height="4.4" fill="#989898"/>
<rect x="443.4" y="441.9" width="2.2" height="2.2" fill="#7c7c7c"/>
<rect x="447.5" y="440.8" width="4.1" height="4.4" fill="#989898"/>
<rect x="448.4" y="441.9" width="2.2" height="2.2" fill="#7c7c7c"/>
<rect x="452.5" y="440.8" width="4.1" height="4.4" fill="#989898"/>
<rect x="453.4" y="441.9" width="2.2" height="2.2" fill="#7c7c7c"/>
<rect x="465.8" y="441.2" width="2.8" height="3.6" fill="#999" opacity="1"/>
<rect x="511.8" y="441.2" width="6.2" height="3.6" fill="#8a8a8a" opacity="1"/>
<rect x="383.0" y="447.2" width="5.0" height="3.8" fill="#8f8f8f" opacity="1"/>
<text filter="url(#gs)" x="394" y="450.9" font-family="Liberation Serif" font-size="5.4" fill="#a8a8a8" stroke="none" text-anchor="start" font-weight="bold" textLength="23" lengthAdjust="spacingAndGlyphs">THD315-14</text>
<rect x="427.5" y="446.9" width="3.8" height="4.4" fill="#989898"/>
<rect x="428.4" y="448.0" width="1.9" height="2.2" fill="#7c7c7c"/>
<rect x="432.2" y="446.9" width="3.8" height="4.4" fill="#989898"/>
<rect x="433.1" y="448.0" width="1.9" height="2.2" fill="#7c7c7c"/>
<rect x="436.8" y="446.9" width="3.8" height="4.4" fill="#989898"/>
<rect x="437.7" y="448.0" width="1.9" height="2.2" fill="#7c7c7c"/>
<rect x="465.8" y="447.3" width="2.8" height="3.6" fill="#999" opacity="1"/>
<rect x="502.5" y="447.3" width="6.3" height="3.6" fill="#8a8a8a" opacity="1"/>
<rect x="511.8" y="447.3" width="6.2" height="3.6" fill="#8a8a8a" opacity="1"/>
<rect x="383.0" y="453.3" width="5.0" height="3.8" fill="#8f8f8f" opacity="1"/>
<text filter="url(#gs)" x="394" y="456.96000000000004" font-family="Liberation Serif" font-size="5.4" fill="#a8a8a8" stroke="none" text-anchor="start" font-weight="bold" textLength="23" lengthAdjust="spacingAndGlyphs">THD315-13</text>
<rect x="427.5" y="453.0" width="4.1" height="4.4" fill="#989898"/>
<rect x="428.4" y="454.1" width="2.2" height="2.2" fill="#7c7c7c"/>
<rect x="432.5" y="453.0" width="4.1" height="4.4" fill="#989898"/>
<rect x="433.4" y="454.1" width="2.2" height="2.2" fill="#7c7c7c"/>
<rect x="437.5" y="453.0" width="4.1" height="4.4" fill="#989898"/>
<rect x="438.4" y="454.1" width="2.2" height="2.2" fill="#7c7c7c"/>
<rect x="442.5" y="453.0" width="4.1" height="4.4" fill="#989898"/>
<rect x="443.4" y="454.1" width="2.2" height="2.2" fill="#7c7c7c"/>
<rect x="447.5" y="453.0" width="4.1" height="4.4" fill="#989898"/>
<rect x="448.4" y="454.1" width="2.2" height="2.2" fill="#7c7c7c"/>
<rect x="452.5" y="453.0" width="4.1" height="4.4" fill="#989898"/>
<rect x="453.4" y="454.1" width="2.2" height="2.2" fill="#7c7c7c"/>
<rect x="465.8" y="453.4" width="2.8" height="3.6" fill="#999" opacity="1"/>
<rect x="479.5" y="453.5" width="15.5" height="3.4" fill="#8a8a8a" opacity="1"/>
<rect x="502.5" y="453.4" width="6.3" height="3.6" fill="#8a8a8a" opacity="1"/>
<rect x="511.8" y="453.4" width="6.2" height="3.6" fill="#8a8a8a" opacity="1"/>
<rect x="383.0" y="459.3" width="5.0" height="3.8" fill="#8f8f8f" opacity="1"/>
<text filter="url(#gs)" x="394" y="463.02" font-family="Liberation Serif" font-size="5.4" fill="#a8a8a8" stroke="none" text-anchor="start" font-weight="bold" textLength="23" lengthAdjust="spacingAndGlyphs">THD315-12</text>
<rect x="427.5" y="459.0" width="3.6" height="4.4" fill="#989898"/>
<rect x="428.4" y="460.1" width="1.7" height="2.2" fill="#7c7c7c"/>
<rect x="432.0" y="459.0" width="3.6" height="4.4" fill="#989898"/>
<rect x="432.9" y="460.1" width="1.7" height="2.2" fill="#7c7c7c"/>
<rect x="436.5" y="459.0" width="3.6" height="4.4" fill="#989898"/>
<rect x="437.4" y="460.1" width="1.7" height="2.2" fill="#7c7c7c"/>
<rect x="441.0" y="459.0" width="3.6" height="4.4" fill="#989898"/>
<rect x="441.9" y="460.1" width="1.7" height="2.2" fill="#7c7c7c"/>
<rect x="465.8" y="459.4" width="2.8" height="3.6" fill="#999" opacity="1"/>
<rect x="479.5" y="459.5" width="15.5" height="3.4" fill="#8a8a8a" opacity="1"/>
<rect x="502.5" y="459.4" width="6.3" height="3.6" fill="#8a8a8a" opacity="1"/>
<rect x="511.8" y="459.4" width="6.2" height="3.6" fill="#8a8a8a" opacity="1"/>
<rect x="383.0" y="465.4" width="5.0" height="3.8" fill="#8f8f8f" opacity="1"/>
<text filter="url(#gs)" x="394" y="469.08000000000004" font-family="Liberation Serif" font-size="5.4" fill="#a8a8a8" stroke="none" text-anchor="start" font-weight="bold" textLength="23" lengthAdjust="spacingAndGlyphs">THD315-11</text>
<rect x="427.5" y="465.1" width="5.1" height="4.4" fill="#989898"/>
<rect x="428.4" y="466.2" width="3.2" height="2.2" fill="#7c7c7c"/>
<rect x="433.5" y="465.1" width="5.1" height="4.4" fill="#989898"/>
<rect x="434.4" y="466.2" width="3.2" height="2.2" fill="#7c7c7c"/>
<rect x="465.8" y="465.5" width="2.8" height="3.6" fill="#999" opacity="1"/>
<rect x="502.5" y="465.5" width="6.3" height="3.6" fill="#8a8a8a" opacity="1"/>
<rect x="511.8" y="465.5" width="6.2" height="3.6" fill="#8a8a8a" opacity="1"/>
<line x1="536.7" y1="375.5" x2="689" y2="375.5" stroke="#ffffff" stroke-width="1.25" />
<line x1="536.7" y1="381.5" x2="689" y2="381.5" stroke="#c4c4c4" stroke-width="1.12" />
<line x1="536.7" y1="387.5" x2="689" y2="387.5" stroke="#c4c4c4" stroke-width="1.12" />
<line x1="536.7" y1="393.5" x2="689" y2="393.5" stroke="#c4c4c4" stroke-width="1.12" />
<line x1="536.7" y1="399.5" x2="689" y2="399.5" stroke="#c4c4c4" stroke-width="1.12" />
<line x1="536.7" y1="404.5" x2="689" y2="404.5" stroke="#c4c4c4" stroke-width="1.12" />
<line x1="536.7" y1="410.5" x2="689" y2="410.5" stroke="#c4c4c4" stroke-width="1.12" />
<line x1="536.7" y1="416.5" x2="689" y2="416.5" stroke="#c4c4c4" stroke-width="1.12" />
<line x1="536.7" y1="422.5" x2="689" y2="422.5" stroke="#c4c4c4" stroke-width="1.12" />
<line x1="536.7" y1="428.5" x2="689" y2="428.5" stroke="#c4c4c4" stroke-width="1.12" />
<line x1="536.7" y1="434.5" x2="689" y2="434.5" stroke="#c4c4c4" stroke-width="1.12" />
<line x1="536.7" y1="439.5" x2="689" y2="439.5" stroke="#ffffff" stroke-width="1.25" />
<line x1="536.7" y1="446.5" x2="689" y2="446.5" stroke="#ffffff" stroke-width="1.25" />
<line x1="536.5" y1="375.4" x2="536.5" y2="446.5" stroke="#ffffff" stroke-width="1.25" />
<line x1="545.5" y1="375.4" x2="545.5" y2="446.5" stroke="#c4c4c4" stroke-width="1.12" />
<line x1="579.5" y1="375.4" x2="579.5" y2="446.5" stroke="#c4c4c4" stroke-width="1.12" />
<line x1="618.5" y1="375.4" x2="618.5" y2="446.5" stroke="#c4c4c4" stroke-width="1.12" />
<line x1="627.5" y1="375.4" x2="627.5" y2="446.5" stroke="#c4c4c4" stroke-width="1.12" />
<line x1="655.5" y1="375.4" x2="655.5" y2="446.5" stroke="#c4c4c4" stroke-width="1.12" />
<line x1="664.5" y1="375.4" x2="664.5" y2="446.5" stroke="#c4c4c4" stroke-width="1.12" />
<line x1="674.5" y1="375.4" x2="674.5" y2="446.5" stroke="#c4c4c4" stroke-width="1.12" />
<rect x="538.6" y="376.6" width="5.0" height="3.8" fill="#999" opacity="1"/>
<text filter="url(#gs)" x="548.6" y="380.3" font-family="Liberation Serif" font-size="5.4" fill="#b4b4b4" stroke="none" text-anchor="start" font-weight="bold" textLength="22.5" lengthAdjust="spacingAndGlyphs">THD315-11</text>
<rect x="583.0" y="376.2" width="4.1" height="4.6" fill="#9c9c9c"/>
<rect x="583.9" y="377.3" width="2.2" height="2.4" fill="#7c7c7c"/>
<rect x="588.0" y="376.2" width="4.1" height="4.6" fill="#9c9c9c"/>
<rect x="588.9" y="377.3" width="2.2" height="2.4" fill="#7c7c7c"/>
<rect x="621.0" y="376.7" width="2.6" height="3.6" fill="#999" opacity="1"/>
<rect x="634.0" y="376.8" width="16.0" height="3.4" fill="#8a8a8a" opacity="1"/>
<rect x="657.0" y="376.7" width="5.8" height="3.6" fill="#8a8a8a" opacity="1"/>
<rect x="538.6" y="382.4" width="5.0" height="3.8" fill="#999" opacity="1"/>
<text filter="url(#gs)" x="548.6" y="386.1" font-family="Liberation Serif" font-size="5.4" fill="#b4b4b4" stroke="none" text-anchor="start" font-weight="bold" textLength="22.5" lengthAdjust="spacingAndGlyphs">THD315-10</text>
<rect x="583.0" y="382.0" width="4.1" height="4.6" fill="#9c9c9c"/>
<rect x="583.9" y="383.1" width="2.2" height="2.4" fill="#7c7c7c"/>
<rect x="588.0" y="382.0" width="4.1" height="4.6" fill="#9c9c9c"/>
<rect x="588.9" y="383.1" width="2.2" height="2.4" fill="#7c7c7c"/>
<rect x="621.0" y="382.5" width="2.6" height="3.6" fill="#999" opacity="1"/>
<rect x="634.0" y="382.6" width="16.0" height="3.4" fill="#8a8a8a" opacity="1"/>
<rect x="657.0" y="382.5" width="5.8" height="3.6" fill="#8a8a8a" opacity="1"/>
<rect x="667.0" y="382.5" width="5.8" height="3.6" fill="#8a8a8a" opacity="1"/>
<rect x="538.6" y="388.5" width="5.0" height="3.8" fill="#999" opacity="1"/>
<text filter="url(#gs)" x="548.6" y="392.20000000000005" font-family="Liberation Serif" font-size="5.4" fill="#b4b4b4" stroke="none" text-anchor="start" font-weight="bold" textLength="22.5" lengthAdjust="spacingAndGlyphs">THD315-09</text>
<rect x="583.0" y="388.1" width="4.1" height="4.6" fill="#9c9c9c"/>
<rect x="583.9" y="389.2" width="2.2" height="2.4" fill="#7c7c7c"/>
<rect x="588.0" y="388.1" width="4.1" height="4.6" fill="#9c9c9c"/>
<rect x="588.9" y="389.2" width="2.2" height="2.4" fill="#7c7c7c"/>
<rect x="593.0" y="388.1" width="4.1" height="4.6" fill="#9c9c9c"/>
<rect x="593.9" y="389.2" width="2.2" height="2.4" fill="#7c7c7c"/>
<rect x="598.0" y="388.1" width="4.1" height="4.6" fill="#9c9c9c"/>
<rect x="598.9" y="389.2" width="2.2" height="2.4" fill="#7c7c7c"/>
<rect x="603.0" y="388.1" width="4.1" height="4.6" fill="#9c9c9c"/>
<rect x="603.9" y="389.2" width="2.2" height="2.4" fill="#7c7c7c"/>
<rect x="608.0" y="388.1" width="4.1" height="4.6" fill="#9c9c9c"/>
<rect x="608.9" y="389.2" width="2.2" height="2.4" fill="#7c7c7c"/>
<rect x="621.0" y="388.6" width="2.6" height="3.6" fill="#999" opacity="1"/>
<rect x="657.0" y="388.6" width="5.8" height="3.6" fill="#8a8a8a" opacity="1"/>
<rect x="667.0" y="388.6" width="5.8" height="3.6" fill="#8a8a8a" opacity="1"/>
<rect x="538.6" y="394.3" width="5.0" height="3.8" fill="#999" opacity="1"/>
<text filter="url(#gs)" x="548.6" y="398.00000000000006" font-family="Liberation Serif" font-size="5.4" fill="#b4b4b4" stroke="none" text-anchor="start" font-weight="bold" textLength="22.5" lengthAdjust="spacingAndGlyphs">THD315-08</text>
<rect x="583.0" y="393.9" width="4.1" height="4.6" fill="#9c9c9c"/>
<rect x="583.9" y="395.0" width="2.2" height="2.4" fill="#7c7c7c"/>
<rect x="588.0" y="393.9" width="4.1" height="4.6" fill="#9c9c9c"/>
<rect x="588.9" y="395.0" width="2.2" height="2.4" fill="#7c7c7c"/>
<rect x="593.0" y="393.9" width="4.1" height="4.6" fill="#9c9c9c"/>
<rect x="593.9" y="395.0" width="2.2" height="2.4" fill="#7c7c7c"/>
<rect x="598.0" y="393.9" width="4.1" height="4.6" fill="#9c9c9c"/>
<rect x="598.9" y="395.0" width="2.2" height="2.4" fill="#7c7c7c"/>
<rect x="603.0" y="393.9" width="4.1" height="4.6" fill="#9c9c9c"/>
<rect x="603.9" y="395.0" width="2.2" height="2.4" fill="#7c7c7c"/>
<rect x="621.0" y="394.4" width="2.6" height="3.6" fill="#999" opacity="1"/>
<rect x="634.0" y="394.5" width="16.0" height="3.4" fill="#8a8a8a" opacity="1"/>
<rect x="657.0" y="394.4" width="5.8" height="3.6" fill="#8a8a8a" opacity="1"/>
<rect x="667.0" y="394.4" width="5.8" height="3.6" fill="#8a8a8a" opacity="1"/>
<rect x="538.6" y="400.3" width="5.0" height="3.8" fill="#999" opacity="1"/>
<text filter="url(#gs)" x="548.6" y="404.00000000000006" font-family="Liberation Serif" font-size="5.4" fill="#b4b4b4" stroke="none" text-anchor="start" font-weight="bold" textLength="22.5" lengthAdjust="spacingAndGlyphs">THD315-07</text>
<rect x="583.0" y="399.9" width="4.1" height="4.6" fill="#9c9c9c"/>
<rect x="583.9" y="401.0" width="2.2" height="2.4" fill="#7c7c7c"/>
<rect x="588.0" y="399.9" width="4.1" height="4.6" fill="#9c9c9c"/>
<rect x="588.9" y="401.0" width="2.2" height="2.4" fill="#7c7c7c"/>
<rect x="593.0" y="399.9" width="4.1" height="4.6" fill="#9c9c9c"/>
<rect x="593.9" y="401.0" width="2.2" height="2.4" fill="#7c7c7c"/>
<rect x="598.0" y="399.9" width="4.1" height="4.6" fill="#9c9c9c"/>
<rect x="598.9" y="401.0" width="2.2" height="2.4" fill="#7c7c7c"/>
<rect x="621.0" y="400.4" width="2.6" height="3.6" fill="#999" opacity="1"/>
<rect x="657.0" y="400.4" width="5.8" height="3.6" fill="#8a8a8a" opacity="1"/>
<rect x="667.0" y="400.4" width="5.8" height="3.6" fill="#8a8a8a" opacity="1"/>
<rect x="538.6" y="406.1" width="5.0" height="3.8" fill="#999" opacity="1"/>
<text filter="url(#gs)" x="548.6" y="409.8" font-family="Liberation Serif" font-size="5.4" fill="#b4b4b4" stroke="none" text-anchor="start" font-weight="bold" textLength="22.5" lengthAdjust="spacingAndGlyphs">THD315-06</text>
<rect x="583.0" y="405.7" width="4.1" height="4.6" fill="#9c9c9c"/>
<rect x="583.9" y="406.8" width="2.2" height="2.4" fill="#7c7c7c"/>
<rect x="588.0" y="405.7" width="4.1" height="4.6" fill="#9c9c9c"/>
<rect x="588.9" y="406.8" width="2.2" height="2.4" fill="#7c7c7c"/>
<rect x="593.0" y="405.7" width="4.1" height="4.6" fill="#9c9c9c"/>
<rect x="593.9" y="406.8" width="2.2" height="2.4" fill="#7c7c7c"/>
<rect x="598.0" y="405.7" width="4.1" height="4.6" fill="#9c9c9c"/>
<rect x="598.9" y="406.8" width="2.2" height="2.4" fill="#7c7c7c"/>
<rect x="603.0" y="405.7" width="4.1" height="4.6" fill="#9c9c9c"/>
<rect x="603.9" y="406.8" width="2.2" height="2.4" fill="#7c7c7c"/>
<rect x="608.0" y="405.7" width="4.1" height="4.6" fill="#9c9c9c"/>
<rect x="608.9" y="406.8" width="2.2" height="2.4" fill="#7c7c7c"/>
<rect x="621.0" y="406.2" width="2.6" height="3.6" fill="#999" opacity="1"/>
<rect x="657.0" y="406.2" width="5.8" height="3.6" fill="#8a8a8a" opacity="1"/>
<rect x="667.0" y="406.2" width="5.8" height="3.6" fill="#8a8a8a" opacity="1"/>
<rect x="538.6" y="411.9" width="5.0" height="3.8" fill="#999" opacity="1"/>
<text filter="url(#gs)" x="548.6" y="415.6" font-family="Liberation Serif" font-size="5.4" fill="#b4b4b4" stroke="none" text-anchor="start" font-weight="bold" textLength="22.5" lengthAdjust="spacingAndGlyphs">THD315-05</text>
<rect x="583.0" y="411.5" width="4.6" height="4.6" fill="#9c9c9c"/>
<rect x="583.9" y="412.6" width="2.7" height="2.4" fill="#7c7c7c"/>
<rect x="588.5" y="411.5" width="4.6" height="4.6" fill="#9c9c9c"/>
<rect x="589.4" y="412.6" width="2.7" height="2.4" fill="#7c7c7c"/>
<rect x="594.0" y="411.5" width="4.6" height="4.6" fill="#9c9c9c"/>
<rect x="594.9" y="412.6" width="2.7" height="2.4" fill="#7c7c7c"/>
<rect x="599.5" y="411.5" width="4.6" height="4.6" fill="#9c9c9c"/>
<rect x="600.4" y="412.6" width="2.7" height="2.4" fill="#7c7c7c"/>
<rect x="621.0" y="412.0" width="2.6" height="3.6" fill="#999" opacity="1"/>
<rect x="634.0" y="412.1" width="16.0" height="3.4" fill="#8a8a8a" opacity="1"/>
<rect x="657.0" y="412.0" width="5.8" height="3.6" fill="#8a8a8a" opacity="1"/>
<rect x="667.0" y="412.0" width="5.8" height="3.6" fill="#8a8a8a" opacity="1"/>
<rect x="538.6" y="417.7" width="5.0" height="3.8" fill="#999" opacity="1"/>
<text filter="url(#gs)" x="548.6" y="421.40000000000003" font-family="Liberation Serif" font-size="5.4" fill="#b4b4b4" stroke="none" text-anchor="start" font-weight="bold" textLength="22.5" lengthAdjust="spacingAndGlyphs">THD315-04</text>
<rect x="583.0" y="417.3" width="4.1" height="4.6" fill="#9c9c9c"/>
<rect x="583.9" y="418.4" width="2.2" height="2.4" fill="#7c7c7c"/>
<rect x="588.0" y="417.3" width="4.1" height="4.6" fill="#9c9c9c"/>
<rect x="588.9" y="418.4" width="2.2" height="2.4" fill="#7c7c7c"/>
<rect x="593.0" y="417.3" width="4.1" height="4.6" fill="#9c9c9c"/>
<rect x="593.9" y="418.4" width="2.2" height="2.4" fill="#7c7c7c"/>
<rect x="598.0" y="417.3" width="4.1" height="4.6" fill="#9c9c9c"/>
<rect x="598.9" y="418.4" width="2.2" height="2.4" fill="#7c7c7c"/>
<rect x="603.0" y="417.3" width="4.1" height="4.6" fill="#9c9c9c"/>
<rect x="603.9" y="418.4" width="2.2" height="2.4" fill="#7c7c7c"/>
<rect x="608.0" y="417.3" width="4.1" height="4.6" fill="#9c9c9c"/>
<rect x="608.9" y="418.4" width="2.2" height="2.4" fill="#7c7c7c"/>
<rect x="621.0" y="417.8" width="2.6" height="3.6" fill="#999" opacity="1"/>
<rect x="634.0" y="417.9" width="16.0" height="3.4" fill="#8a8a8a" opacity="1"/>
<rect x="657.0" y="417.8" width="5.8" height="3.6" fill="#8a8a8a" opacity="1"/>
<rect x="667.0" y="417.8" width="5.8" height="3.6" fill="#8a8a8a" opacity="1"/>
<rect x="538.6" y="423.5" width="5.0" height="3.8" fill="#999" opacity="1"/>
<text filter="url(#gs)" x="548.6" y="427.20000000000005" font-family="Liberation Serif" font-size="5.4" fill="#b4b4b4" stroke="none" text-anchor="start" font-weight="bold" textLength="22.5" lengthAdjust="spacingAndGlyphs">THD315-03</text>
<rect x="583.0" y="423.1" width="4.1" height="4.6" fill="#9c9c9c"/>
<rect x="583.9" y="424.2" width="2.2" height="2.4" fill="#7c7c7c"/>
<rect x="588.0" y="423.1" width="4.1" height="4.6" fill="#9c9c9c"/>
<rect x="588.9" y="424.2" width="2.2" height="2.4" fill="#7c7c7c"/>
<rect x="593.0" y="423.1" width="4.1" height="4.6" fill="#9c9c9c"/>
<rect x="593.9" y="424.2" width="2.2" height="2.4" fill="#7c7c7c"/>
<rect x="598.0" y="423.1" width="4.1" height="4.6" fill="#9c9c9c"/>
<rect x="598.9" y="424.2" width="2.2" height="2.4" fill="#7c7c7c"/>
<rect x="621.0" y="423.6" width="2.6" height="3.6" fill="#999" opacity="1"/>
<rect x="657.0" y="423.6" width="5.8" height="3.6" fill="#8a8a8a" opacity="1"/>
<rect x="667.0" y="423.6" width="5.8" height="3.6" fill="#8a8a8a" opacity="1"/>
<rect x="538.6" y="429.3" width="5.0" height="3.8" fill="#999" opacity="1"/>
<text filter="url(#gs)" x="548.6" y="433.00000000000006" font-family="Liberation Serif" font-size="5.4" fill="#b4b4b4" stroke="none" text-anchor="start" font-weight="bold" textLength="22.5" lengthAdjust="spacingAndGlyphs">THD315-02</text>
<rect x="583.0" y="428.9" width="3.9" height="4.6" fill="#9c9c9c"/>
<rect x="583.9" y="430.0" width="2.0" height="2.4" fill="#7c7c7c"/>
<rect x="587.8" y="428.9" width="3.9" height="4.6" fill="#9c9c9c"/>
<rect x="588.7" y="430.0" width="2.0" height="2.4" fill="#7c7c7c"/>
<rect x="592.6" y="428.9" width="3.9" height="4.6" fill="#9c9c9c"/>
<rect x="593.5" y="430.0" width="2.0" height="2.4" fill="#7c7c7c"/>
<rect x="597.4" y="428.9" width="3.9" height="4.6" fill="#9c9c9c"/>
<rect x="598.3" y="430.0" width="2.0" height="2.4" fill="#7c7c7c"/>
<rect x="602.2" y="428.9" width="3.9" height="4.6" fill="#9c9c9c"/>
<rect x="603.1" y="430.0" width="2.0" height="2.4" fill="#7c7c7c"/>
<rect x="621.0" y="429.4" width="2.6" height="3.6" fill="#999" opacity="1"/>
<rect x="657.0" y="429.4" width="5.8" height="3.6" fill="#8a8a8a" opacity="1"/>
<rect x="538.6" y="435.2" width="5.0" height="3.8" fill="#999" opacity="1"/>
<text filter="url(#gs)" x="548.6" y="438.90000000000003" font-family="Liberation Serif" font-size="5.4" fill="#b4b4b4" stroke="none" text-anchor="start" font-weight="bold" textLength="22.5" lengthAdjust="spacingAndGlyphs">THD315-01</text>
<rect x="583.0" y="434.8" width="3.9" height="4.6" fill="#9c9c9c"/>
<rect x="583.9" y="435.9" width="2.0" height="2.4" fill="#7c7c7c"/>
<rect x="587.8" y="434.8" width="3.9" height="4.6" fill="#9c9c9c"/>
<rect x="588.7" y="435.9" width="2.0" height="2.4" fill="#7c7c7c"/>
<rect x="592.6" y="434.8" width="3.9" height="4.6" fill="#9c9c9c"/>
<rect x="593.5" y="435.9" width="2.0" height="2.4" fill="#7c7c7c"/>
<rect x="597.4" y="434.8" width="3.9" height="4.6" fill="#9c9c9c"/>
<rect x="598.3" y="435.9" width="2.0" height="2.4" fill="#7c7c7c"/>
<rect x="602.2" y="434.8" width="3.9" height="4.6" fill="#9c9c9c"/>
<rect x="603.1" y="435.9" width="2.0" height="2.4" fill="#7c7c7c"/>
<rect x="621.0" y="435.3" width="2.6" height="3.6" fill="#999" opacity="1"/>
<rect x="657.0" y="435.3" width="5.8" height="3.6" fill="#8a8a8a" opacity="1"/>
<rect x="667.0" y="435.3" width="5.8" height="3.6" fill="#8a8a8a" opacity="1"/>
<rect x="677.5" y="400.4" width="11.5" height="3.2" fill="#777" opacity="1"/>
<rect x="678.0" y="404.3" width="3.0" height="2.4" fill="#777" opacity="1"/>
<rect x="538.4" y="441.3" width="6.0" height="4" fill="#a5a5a5" opacity="1"/>
<rect x="552.0" y="441.3" width="3.0" height="4" fill="#a5a5a5" opacity="1"/>
<rect x="569.0" y="441.3" width="3.0" height="4" fill="#a5a5a5" opacity="1"/>
<rect x="587.0" y="441.3" width="3.0" height="4" fill="#a5a5a5" opacity="1"/>
<rect x="609.0" y="441.3" width="3.0" height="4" fill="#a5a5a5" opacity="1"/>
<rect x="620.0" y="441.1" width="7.0" height="4.4" fill="#a5a5a5" opacity="1"/>
<rect x="633.5" y="441.3" width="3.5" height="4" fill="#a5a5a5" opacity="1"/>
<rect x="647.5" y="441.3" width="3.5" height="4" fill="#a5a5a5" opacity="1"/>
<rect x="657.5" y="441.0" width="6.0" height="4.6" fill="#a5a5a5" opacity="1"/>
<rect x="666.8" y="441.0" width="6.2" height="4.6" fill="#a5a5a5" opacity="1"/>
<rect x="679.0" y="441.3" width="8.0" height="4" fill="#a5a5a5" opacity="1"/>
<line x1="536.7" y1="448.5" x2="588.9" y2="448.5" stroke="#ffffff" stroke-width="1.25" />
<line x1="536.7" y1="454.5" x2="588.9" y2="454.5" stroke="#ffffff" stroke-width="1.25" />
<line x1="536.7" y1="460.5" x2="588.9" y2="460.5" stroke="#ffffff" stroke-width="1.25" />
<line x1="536.7" y1="466.5" x2="588.9" y2="466.5" stroke="#ffffff" stroke-width="1.25" />
<line x1="536.5" y1="446.5" x2="536.5" y2="468" stroke="#ffffff" stroke-width="1.25" />
<line x1="549.5" y1="446.5" x2="549.5" y2="468" stroke="#ffffff" stroke-width="1.25" />
<line x1="562.5" y1="446.5" x2="562.5" y2="468" stroke="#ffffff" stroke-width="1.25" />
<line x1="575.5" y1="446.5" x2="575.5" y2="468" stroke="#ffffff" stroke-width="1.25" />
<line x1="588.5" y1="446.5" x2="588.5" y2="468" stroke="#ffffff" stroke-width="1.25" />
<line x1="640.5" y1="446.5" x2="640.5" y2="468" stroke="#ffffff" stroke-width="1.38" />
<line x1="640" y1="461.5" x2="689" y2="461.5" stroke="#ffffff" stroke-width="1.25" />
<text filter="url(#gs)" x="591.6" y="459.4" font-family="Liberation Serif" font-size="9.6" fill="#b4b4b4" stroke="none" text-anchor="start" textLength="25" lengthAdjust="spacingAndGlyphs">THD315</text>
<rect x="617.4" y="452.8" width="4.2" height="6.8" fill="#9a9a9a"/>
<rect x="618.3" y="453.9" width="2.4" height="4.6" fill="#7c7c7c"/>
<rect x="622.5" y="452.8" width="4.2" height="6.8" fill="#9a9a9a"/>
<rect x="623.4" y="453.9" width="2.4" height="4.6" fill="#7c7c7c"/>
<rect x="627.7" y="452.8" width="4.2" height="6.8" fill="#9a9a9a"/>
<rect x="628.6" y="453.9" width="2.4" height="4.6" fill="#7c7c7c"/>
<rect x="632.9" y="452.8" width="4.2" height="6.8" fill="#9a9a9a"/>
<rect x="633.8" y="453.9" width="2.4" height="4.6" fill="#7c7c7c"/>
<rect x="603.4" y="461.6" width="4.6" height="6.4" fill="#9a9a9a"/>
<rect x="604.3" y="462.7" width="2.7" height="4.2" fill="#7c7c7c"/>
<rect x="608.9" y="461.6" width="4.6" height="6.4" fill="#9a9a9a"/>
<rect x="609.8" y="462.7" width="2.7" height="4.2" fill="#7c7c7c"/>
<rect x="614.4" y="461.6" width="4.6" height="6.4" fill="#9a9a9a"/>
<rect x="615.3" y="462.7" width="2.7" height="4.2" fill="#7c7c7c"/>
<rect x="619.9" y="461.6" width="4.6" height="6.4" fill="#9a9a9a"/>
<rect x="620.8" y="462.7" width="2.7" height="4.2" fill="#7c7c7c"/>
<text filter="url(#gs)" x="644.6" y="458" font-family="Liberation Serif" font-size="8.4" fill="#cfcfcf" stroke="none" text-anchor="start" font-weight="bold" textLength="33" lengthAdjust="spacingAndGlyphs">THD315-00</text>
<rect x="642.0" y="463.9" width="3.6" height="3.4" fill="#8a8a8a" opacity="1"/>
<rect x="647.0" y="463.9" width="3.6" height="3.4" fill="#8a8a8a" opacity="1"/>
<rect x="652.0" y="463.9" width="3.6" height="3.4" fill="#8a8a8a" opacity="1"/>
<rect x="657.0" y="463.9" width="3.6" height="3.4" fill="#8a8a8a" opacity="1"/>
<rect x="662.0" y="463.9" width="3.6" height="3.4" fill="#8a8a8a" opacity="1"/>
<rect x="667.0" y="463.9" width="3.6" height="3.4" fill="#8a8a8a" opacity="1"/>
<rect x="672.0" y="463.9" width="3.6" height="3.4" fill="#8a8a8a" opacity="1"/>
<rect x="677.0" y="463.9" width="3.6" height="3.4" fill="#8a8a8a" opacity="1"/>
<rect x="682.0" y="463.9" width="3.6" height="3.4" fill="#8a8a8a" opacity="1"/>
<rect x="687.0" y="463.9" width="3.6" height="3.4" fill="#8a8a8a" opacity="1"/>
<path d="M154.4,440.2 Q157.5,440.3 159.3,442.6 Q160.8,444.5 159.8,448.5 Q158.8,453.5 161.5,456.8 Q163.3,459 165.6,460.4 Q162.5,461.2 159.5,458.6 Q154.6,454 155.6,448.5 Q156.6,443.5 154.4,440.2 Z" fill="#6c6c6c"/>
<path d="M161.2,447 Q162.5,451 166,451.2 Q169,450.5 169.6,445.5 Q170,443.5 171,443.2 Q173.2,449 172.3,454.5 Q171.2,459.5 167.5,460.2 Q164.5,460.5 162.3,457.2 Q160.2,453.5 161.2,447 Z" fill="#262626"/>
<ellipse cx="164.2" cy="441.6" rx="3.4" ry="2.4" fill="none" stroke="#242424" stroke-width="1.1"/>
</svg>
</body></html>
